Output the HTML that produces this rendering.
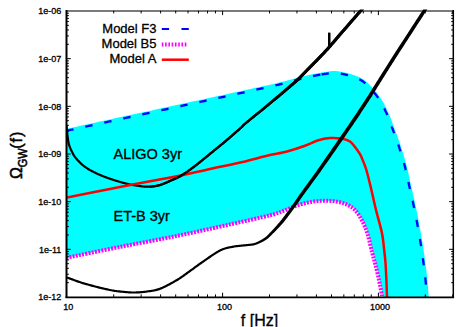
<!DOCTYPE html>
<html><head><meta charset="utf-8">
<style>
html,body{margin:0;padding:0;background:#fff;}
body{width:467px;height:327px;overflow:hidden;position:relative;font-family:"Liberation Sans",sans-serif;}
svg{position:absolute;left:0;top:0;}
text{font-family:"Liberation Sans",sans-serif;fill:#000;stroke:#000;stroke-width:0.3px;}
.tl{font-size:9px;}
</style></head><body>
<svg width="467" height="327" viewBox="0 0 467 327">
<defs><clipPath id="cp2"><rect x="150" y="11" width="310" height="286"/></clipPath><clipPath id="cp"><rect x="67" y="9.6" width="386.5" height="287.4"/></clipPath></defs>
<rect width="467" height="327" fill="#fff"/>
<rect x="66" y="10" width="388" height="2" fill="#7a7a7a"/>
<g clip-path="url(#cp)">
  <path d="M60.00 132.20 L60.19 132.16 L60.23 132.15 L60.18 132.16 L60.11 132.18 L60.09 132.19 L60.19 132.17 L60.47 132.11 L61.00 132.00 L61.85 131.81 L63.09 131.55 L64.78 131.18 L67.00 130.70 L69.79 130.09 L73.13 129.37 L76.92 128.55 L81.11 127.64 L85.62 126.66 L90.38 125.62 L95.30 124.55 L100.33 123.46 L105.39 122.37 L110.40 121.28 L115.30 120.22 L120.00 119.20 L124.62 118.20 L129.31 117.19 L134.06 116.16 L138.85 115.13 L143.67 114.09 L148.50 113.05 L153.33 112.01 L158.15 110.97 L162.94 109.94 L167.69 108.91 L172.38 107.90 L177.00 106.90 L181.57 105.91 L186.12 104.93 L190.65 103.95 L195.15 102.97 L199.62 102.01 L204.06 101.04 L208.47 100.09 L212.85 99.14 L217.20 98.19 L221.50 97.26 L225.77 96.32 L230.00 95.40 L234.27 94.47 L238.62 93.52 L243.02 92.56 L247.43 91.60 L251.80 90.64 L256.09 89.70 L260.27 88.78 L264.30 87.89 L268.12 87.04 L271.71 86.24 L275.01 85.49 L278.00 84.80 L280.65 84.17 L283.02 83.60 L285.11 83.07 L286.98 82.59 L288.65 82.14 L290.16 81.73 L291.53 81.35 L292.80 80.99 L294.00 80.65 L295.16 80.32 L296.32 80.01 L297.50 79.70 L298.64 79.41 L299.66 79.15 L300.58 78.92 L301.41 78.71 L302.17 78.53 L302.88 78.36 L303.56 78.20 L304.21 78.04 L304.87 77.89 L305.54 77.73 L306.24 77.57 L307.00 77.40 L307.79 77.22 L308.59 77.04 L309.39 76.86 L310.19 76.69 L310.99 76.52 L311.79 76.34 L312.58 76.18 L313.37 76.01 L314.14 75.85 L314.91 75.70 L315.66 75.54 L316.40 75.40 L317.11 75.26 L317.80 75.13 L318.47 75.00 L319.13 74.88 L319.78 74.76 L320.42 74.64 L321.06 74.53 L321.71 74.42 L322.38 74.31 L323.06 74.21 L323.77 74.10 L324.50 74.00 L325.26 73.89 L326.05 73.77 L326.86 73.65 L327.69 73.52 L328.53 73.40 L329.38 73.28 L330.23 73.17 L331.09 73.08 L331.93 73.00 L332.77 72.94 L333.59 72.91 L334.40 72.90 L335.19 72.92 L335.98 72.97 L336.77 73.03 L337.55 73.12 L338.32 73.22 L339.09 73.34 L339.86 73.47 L340.62 73.60 L341.37 73.75 L342.12 73.90 L342.86 74.05 L343.60 74.20 L344.32 74.35 L345.03 74.50 L345.72 74.66 L346.41 74.82 L347.09 74.99 L347.76 75.17 L348.44 75.36 L349.13 75.56 L349.82 75.77 L350.53 76.00 L351.25 76.24 L352.00 76.50 L352.78 76.78 L353.59 77.07 L354.42 77.38 L355.28 77.70 L356.14 78.03 L357.01 78.38 L357.87 78.74 L358.71 79.11 L359.54 79.49 L360.33 79.89 L361.09 80.29 L361.80 80.70 L362.47 81.12 L363.09 81.55 L363.68 81.99 L364.25 82.44 L364.79 82.90 L365.32 83.37 L365.84 83.85 L366.35 84.35 L366.87 84.86 L367.40 85.39 L367.94 85.94 L368.50 86.50 L369.08 87.09 L369.69 87.70 L370.30 88.35 L370.92 89.01 L371.54 89.68 L372.16 90.37 L372.78 91.06 L373.38 91.75 L373.97 92.43 L374.54 93.11 L375.08 93.76 L375.60 94.40 L376.09 95.02 L376.55 95.61 L376.99 96.20 L377.41 96.77 L377.82 97.34 L378.21 97.91 L378.60 98.48 L378.98 99.06 L379.35 99.65 L379.73 100.24 L380.11 100.86 L380.50 101.50 L380.89 102.16 L381.28 102.83 L381.66 103.51 L382.05 104.21 L382.43 104.92 L382.81 105.63 L383.18 106.35 L383.55 107.08 L383.92 107.81 L384.28 108.54 L384.64 109.27 L385.00 110.00 L385.35 110.73 L385.70 111.46 L386.05 112.20 L386.39 112.94 L386.73 113.68 L387.06 114.42 L387.39 115.17 L387.72 115.93 L388.05 116.69 L388.37 117.45 L388.69 118.22 L389.00 119.00 L389.31 119.79 L389.61 120.59 L389.91 121.40 L390.20 122.21 L390.49 123.03 L390.78 123.86 L391.07 124.68 L391.35 125.51 L391.64 126.33 L391.92 127.15 L392.21 127.95 L392.50 128.75 L392.79 129.54 L393.09 130.34 L393.39 131.13 L393.69 131.92 L394.00 132.70 L394.30 133.48 L394.59 134.26 L394.89 135.03 L395.18 135.79 L395.46 136.54 L395.73 137.27 L396.00 138.00 L396.25 138.68 L396.47 139.28 L396.67 139.83 L396.86 140.35 L397.05 140.86 L397.23 141.39 L397.43 141.95 L397.64 142.56 L397.87 143.26 L398.13 144.04 L398.42 144.95 L398.75 146.00 L399.13 147.20 L399.55 148.53 L400.01 149.98 L400.50 151.53 L401.01 153.15 L401.53 154.83 L402.06 156.54 L402.58 158.28 L403.10 160.01 L403.59 161.72 L404.06 163.39 L404.50 165.00 L404.91 166.57 L405.29 168.13 L405.66 169.68 L406.02 171.22 L406.36 172.77 L406.70 174.31 L407.04 175.86 L407.37 177.42 L407.71 178.98 L408.04 180.56 L408.39 182.14 L408.75 183.75 L409.12 185.38 L409.49 187.03 L409.88 188.69 L410.26 190.37 L410.65 192.06 L411.03 193.75 L411.42 195.44 L411.80 197.13 L412.17 198.81 L412.54 200.47 L412.90 202.12 L413.25 203.75 L413.59 205.35 L413.92 206.93 L414.25 208.50 L414.56 210.05 L414.88 211.59 L415.19 213.12 L415.49 214.66 L415.80 216.20 L416.10 217.75 L416.40 219.32 L416.70 220.90 L417.00 222.50 L417.30 224.13 L417.61 225.78 L417.91 227.44 L418.21 229.12 L418.51 230.81 L418.81 232.50 L419.11 234.19 L419.40 235.88 L419.68 237.56 L419.96 239.22 L420.24 240.87 L420.50 242.50 L420.76 244.11 L421.01 245.70 L421.25 247.28 L421.49 248.84 L421.72 250.40 L421.95 251.95 L422.18 253.50 L422.40 255.05 L422.62 256.59 L422.83 258.14 L423.04 259.69 L423.25 261.25 L423.46 262.82 L423.66 264.40 L423.87 265.98 L424.07 267.56 L424.27 269.15 L424.47 270.73 L424.66 272.31 L424.84 273.88 L425.02 275.44 L425.19 276.98 L425.35 278.50 L425.50 280.00 L425.64 281.51 L425.78 283.06 L425.91 284.63 L426.04 286.20 L426.15 287.76 L426.27 289.30 L426.37 290.79 L426.47 292.21 L426.56 293.56 L426.65 294.82 L426.73 295.97 L426.80 297.00 L426.87 297.90 L426.92 298.71 L426.97 299.41 L427.01 300.04 L427.05 300.58 L427.08 301.06 L427.11 301.48 L427.13 301.85 L427.15 302.18 L427.17 302.47 L427.18 302.75 L427.20 303.00 L383.39 302.93 L383.37 302.64 L383.34 302.27 L383.31 301.83 L383.27 301.34 L383.23 300.81 L383.19 300.24 L383.14 299.66 L383.09 299.07 L383.04 298.49 L382.99 297.93 L382.94 297.40 L382.89 296.91 L382.84 296.48 L382.80 296.10 L382.76 295.75 L382.73 295.42 L382.69 295.09 L382.65 294.76 L382.60 294.40 L382.54 294.01 L382.47 293.58 L382.38 293.08 L382.29 292.51 L382.17 291.85 L382.04 291.10 L381.89 290.28 L381.73 289.41 L381.56 288.47 L381.38 287.49 L381.19 286.46 L380.99 285.40 L380.78 284.31 L380.56 283.20 L380.33 282.08 L380.10 280.95 L379.86 279.82 L379.60 278.66 L379.34 277.46 L379.06 276.22 L378.77 274.95 L378.48 273.67 L378.17 272.36 L377.87 271.06 L377.56 269.76 L377.25 268.48 L376.94 267.21 L376.64 265.98 L376.34 264.79 L376.05 263.64 L375.76 262.54 L375.47 261.48 L375.19 260.44 L374.91 259.41 L374.62 258.39 L374.34 257.37 L374.05 256.33 L373.76 255.26 L373.46 254.15 L373.15 253.00 L372.84 251.79 L372.52 250.51 L372.20 249.16 L371.87 247.75 L371.54 246.31 L371.21 244.83 L370.86 243.33 L370.51 241.84 L370.15 240.35 L369.78 238.88 L369.40 237.45 L369.01 236.07 L368.61 234.75 L368.21 233.49 L367.81 232.26 L367.40 231.06 L366.98 229.89 L366.56 228.74 L366.13 227.61 L365.68 226.50 L365.22 225.40 L364.74 224.33 L364.25 223.26 L363.73 222.20 L363.20 221.15 L362.65 220.10 L362.08 219.04 L361.51 217.99 L360.91 216.95 L360.30 215.92 L359.66 214.91 L359.01 213.92 L358.34 212.97 L357.64 212.05 L356.92 211.18 L356.18 210.35 L355.42 209.59 L354.64 208.88 L353.84 208.22 L353.03 207.61 L352.20 207.04 L351.36 206.51 L350.50 206.01 L349.63 205.55 L348.75 205.11 L347.85 204.69 L346.94 204.30 L346.02 203.92 L345.07 203.56 L344.10 203.23 L343.10 202.93 L342.08 202.66 L341.04 202.41 L339.98 202.18 L338.91 201.97 L337.84 201.78 L336.76 201.61 L335.68 201.45 L334.61 201.31 L333.54 201.19 L332.49 201.08 L331.45 200.99 L330.41 200.93 L329.37 200.89 L328.33 200.87 L327.29 200.86 L326.25 200.87 L325.21 200.86 L324.17 200.87 L323.13 200.89 L322.09 200.93 L321.05 200.97 L320.01 201.03 L318.97 201.09 L317.93 201.16 L316.88 201.25 L315.84 201.34 L314.80 201.45 L313.76 201.57 L312.71 201.70 L311.67 201.85 L310.63 202.01 L309.58 202.19 L308.54 202.37 L307.49 202.57 L306.45 202.79 L305.40 203.02 L304.36 203.26 L303.31 203.52 L302.27 203.80 L301.22 204.09 L300.17 204.39 L299.13 204.70 L298.08 205.03 L297.04 205.36 L295.99 205.70 L294.95 206.05 L293.90 206.40 L292.85 206.78 L291.80 207.18 L290.75 207.59 L289.70 208.02 L288.66 208.46 L287.62 208.90 L286.58 209.34 L285.54 209.78 L284.51 210.21 L283.47 210.63 L282.43 211.03 L281.48 211.38 L280.66 211.68 L279.94 211.97 L279.27 212.25 L278.61 212.53 L277.91 212.82 L277.11 213.14 L276.16 213.47 L275.03 213.84 L273.65 214.25 L271.98 214.71 L269.98 215.23 L267.66 215.82 L265.06 216.45 L262.23 217.12 L259.17 217.83 L255.93 218.57 L252.52 219.35 L248.97 220.15 L245.31 220.97 L241.55 221.80 L237.73 222.65 L233.87 223.50 L229.99 224.36 L226.04 225.24 L221.96 226.15 L217.75 227.08 L213.44 228.04 L209.03 229.01 L204.55 230.00 L200.02 230.99 L195.44 231.98 L190.83 232.97 L186.21 233.96 L181.59 234.93 L177.00 235.88 L172.37 236.82 L167.68 237.75 L162.94 238.68 L158.15 239.61 L153.33 240.53 L148.50 241.44 L143.67 242.36 L138.85 243.27 L134.06 244.17 L129.31 245.08 L124.62 245.98 L120.00 246.89 L115.29 247.82 L110.40 248.80 L105.39 249.81 L100.33 250.83 L95.30 251.85 L90.37 252.85 L85.62 253.82 L81.11 254.74 L76.92 255.60 L73.12 256.38 L69.79 257.06 L67.00 257.63 L64.78 258.08 L63.09 258.43 L61.85 258.68 L61.00 258.85 L60.46 258.96 L60.18 259.01 L60.06 258.97 L60.10 259.02 L60.18 259.03 L60.23 259.04 L60.18 259.03 L59.99 259.07 Z" fill="#00ffff"/>
  <path d="M60.00 132.20 L60.19 132.16 L60.23 132.15 L60.18 132.16 L60.11 132.18 L60.09 132.19 L60.19 132.17 L60.47 132.11 L61.00 132.00 L61.85 131.81 L63.09 131.55 L64.78 131.18 L67.00 130.70 L69.79 130.09 L73.13 129.37 L76.92 128.55 L81.11 127.64 L85.62 126.66 L90.38 125.62 L95.30 124.55 L100.33 123.46 L105.39 122.37 L110.40 121.28 L115.30 120.22 L120.00 119.20 L124.62 118.20 L129.31 117.19 L134.06 116.16 L138.85 115.13 L143.67 114.09 L148.50 113.05 L153.33 112.01 L158.15 110.97 L162.94 109.94 L167.69 108.91 L172.38 107.90 L177.00 106.90 L181.57 105.91 L186.12 104.93 L190.65 103.95 L195.15 102.97 L199.62 102.01 L204.06 101.04 L208.47 100.09 L212.85 99.14 L217.20 98.19 L221.50 97.26 L225.77 96.32 L230.00 95.40 L234.27 94.47 L238.62 93.52 L243.02 92.56 L247.43 91.60 L251.80 90.64 L256.09 89.70 L260.27 88.78 L264.30 87.89 L268.12 87.04 L271.71 86.24 L275.01 85.49 L278.00 84.80 L280.65 84.17 L283.02 83.60 L285.11 83.07 L286.98 82.59 L288.65 82.14 L290.16 81.73 L291.53 81.35 L292.80 80.99 L294.00 80.65 L295.16 80.32 L296.32 80.01 L297.50 79.70 L298.64 79.41 L299.66 79.15 L300.58 78.92 L301.41 78.71 L302.17 78.53 L302.88 78.36 L303.56 78.20 L304.21 78.04 L304.87 77.89 L305.54 77.73 L306.24 77.57 L307.00 77.40 L307.79 77.22 L308.59 77.04 L309.39 76.86 L310.19 76.69 L310.99 76.52 L311.79 76.34 L312.58 76.18 L313.37 76.01 L314.14 75.85 L314.91 75.70 L315.66 75.54 L316.40 75.40 L317.11 75.26 L317.80 75.13 L318.47 75.00 L319.13 74.88 L319.78 74.76 L320.42 74.64 L321.06 74.53 L321.71 74.42 L322.38 74.31 L323.06 74.21 L323.77 74.10 L324.50 74.00 L325.26 73.89 L326.05 73.77 L326.86 73.65 L327.69 73.52 L328.53 73.40 L329.38 73.28 L330.23 73.17 L331.09 73.08 L331.93 73.00 L332.77 72.94 L333.59 72.91 L334.40 72.90 L335.19 72.92 L335.98 72.97 L336.77 73.03 L337.55 73.12 L338.32 73.22 L339.09 73.34 L339.86 73.47 L340.62 73.60 L341.37 73.75 L342.12 73.90 L342.86 74.05 L343.60 74.20 L344.32 74.35 L345.03 74.50 L345.72 74.66 L346.41 74.82 L347.09 74.99 L347.76 75.17 L348.44 75.36 L349.13 75.56 L349.82 75.77 L350.53 76.00 L351.25 76.24 L352.00 76.50 L352.78 76.78 L353.59 77.07 L354.42 77.38 L355.28 77.70 L356.14 78.03 L357.01 78.38 L357.87 78.74 L358.71 79.11 L359.54 79.49 L360.33 79.89 L361.09 80.29 L361.80 80.70 L362.47 81.12 L363.09 81.55 L363.68 81.99 L364.25 82.44 L364.79 82.90 L365.32 83.37 L365.84 83.85 L366.35 84.35 L366.87 84.86 L367.40 85.39 L367.94 85.94 L368.50 86.50 L369.08 87.09 L369.69 87.70 L370.30 88.35 L370.92 89.01 L371.54 89.68 L372.16 90.37 L372.78 91.06 L373.38 91.75 L373.97 92.43 L374.54 93.11 L375.08 93.76 L375.60 94.40 L376.09 95.02 L376.55 95.61 L376.99 96.20 L377.41 96.77 L377.82 97.34 L378.21 97.91 L378.60 98.48 L378.98 99.06 L379.35 99.65 L379.73 100.24 L380.11 100.86 L380.50 101.50 L380.89 102.16 L381.28 102.83 L381.66 103.51 L382.05 104.21 L382.43 104.92 L382.81 105.63 L383.18 106.35 L383.55 107.08 L383.92 107.81 L384.28 108.54 L384.64 109.27 L385.00 110.00 L385.35 110.73 L385.70 111.46 L386.05 112.20 L386.39 112.94 L386.73 113.68 L387.06 114.42 L387.39 115.17 L387.72 115.93 L388.05 116.69 L388.37 117.45 L388.69 118.22 L389.00 119.00 L389.31 119.79 L389.61 120.59 L389.91 121.40 L390.20 122.21 L390.49 123.03 L390.78 123.86 L391.07 124.68 L391.35 125.51 L391.64 126.33 L391.92 127.15 L392.21 127.95 L392.50 128.75 L392.79 129.54 L393.09 130.34 L393.39 131.13 L393.69 131.92 L394.00 132.70 L394.30 133.48 L394.59 134.26 L394.89 135.03 L395.18 135.79 L395.46 136.54 L395.73 137.27 L396.00 138.00 L396.25 138.68 L396.47 139.28 L396.67 139.83 L396.86 140.35 L397.05 140.86 L397.23 141.39 L397.43 141.95 L397.64 142.56 L397.87 143.26 L398.13 144.04 L398.42 144.95 L398.75 146.00 L399.13 147.20 L399.55 148.53 L400.01 149.98 L400.50 151.53 L401.01 153.15 L401.53 154.83 L402.06 156.54 L402.58 158.28 L403.10 160.01 L403.59 161.72 L404.06 163.39 L404.50 165.00 L404.91 166.57 L405.29 168.13 L405.66 169.68 L406.02 171.22 L406.36 172.77 L406.70 174.31 L407.04 175.86 L407.37 177.42 L407.71 178.98 L408.04 180.56 L408.39 182.14 L408.75 183.75 L409.12 185.38 L409.49 187.03 L409.88 188.69 L410.26 190.37 L410.65 192.06 L411.03 193.75 L411.42 195.44 L411.80 197.13 L412.17 198.81 L412.54 200.47 L412.90 202.12 L413.25 203.75 L413.59 205.35 L413.92 206.93 L414.25 208.50 L414.56 210.05 L414.88 211.59 L415.19 213.12 L415.49 214.66 L415.80 216.20 L416.10 217.75 L416.40 219.32 L416.70 220.90 L417.00 222.50 L417.30 224.13 L417.61 225.78 L417.91 227.44 L418.21 229.12 L418.51 230.81 L418.81 232.50 L419.11 234.19 L419.40 235.88 L419.68 237.56 L419.96 239.22 L420.24 240.87 L420.50 242.50 L420.76 244.11 L421.01 245.70 L421.25 247.28 L421.49 248.84 L421.72 250.40 L421.95 251.95 L422.18 253.50 L422.40 255.05 L422.62 256.59 L422.83 258.14 L423.04 259.69 L423.25 261.25 L423.46 262.82 L423.66 264.40 L423.87 265.98 L424.07 267.56 L424.27 269.15 L424.47 270.73 L424.66 272.31 L424.84 273.88 L425.02 275.44 L425.19 276.98 L425.35 278.50 L425.50 280.00 L425.64 281.51 L425.78 283.06 L425.91 284.63 L426.04 286.20 L426.15 287.76 L426.27 289.30 L426.37 290.79 L426.47 292.21 L426.56 293.56 L426.65 294.82 L426.73 295.97 L426.80 297.00 L426.87 297.90 L426.92 298.71 L426.97 299.41 L427.01 300.04 L427.05 300.58 L427.08 301.06 L427.11 301.48 L427.13 301.85 L427.15 302.18 L427.17 302.47 L427.18 302.75 L427.20 303.00" fill="none" stroke="#00ffff" stroke-width="3.8" stroke-linejoin="round"/>
  <path d="M66.28 130.86 L67.00 130.70 L67.78 130.53 L68.61 130.35 L69.49 130.16 L70.42 129.96 L71.40 129.75 L72.42 129.52 L73.48 129.29 L74.59 129.05 L75.74 128.80 L76.92 128.55 L78.14 128.28 L79.39 128.01 L80.68 127.73 L81.99 127.45 L83.33 127.16 L84.70 126.86 L86.09 126.56 L87.50 126.25 L88.93 125.94 L90.38 125.62 L91.84 125.31 L93.32 124.99 L94.81 124.66 L96.30 124.34 L97.81 124.01 L99.32 123.68 L100.84 123.35 L102.36 123.02 L103.87 122.69 L105.39 122.37 L106.90 122.04 L108.41 121.71 L109.91 121.39 L111.39 121.06 L112.87 120.74 L114.33 120.43 L115.78 120.11 L117.21 119.80 L118.61 119.50 L120.00 119.20 L121.38 118.90 L122.76 118.60 L124.16 118.30 L125.56 118.00 L126.96 117.70 L128.37 117.39 L129.79 117.09 L131.21 116.78 L132.63 116.47 L134.06 116.16 L135.50 115.85 L136.93 115.54 L138.37 115.23 L139.81 114.92 L141.26 114.61 L142.70 114.30 L144.15 113.99 L145.60 113.67 L147.05 113.36 L148.50 113.05 L149.95 112.74 L151.40 112.43 L152.85 112.11 L154.30 111.80 L155.74 111.49 L157.19 111.18 L158.63 110.87 L160.07 110.56 L161.50 110.25 L162.94 109.94 L164.37 109.63 L165.79 109.32 L167.21 109.01 L168.63 108.71 L170.04 108.40 L171.44 108.10 L172.84 107.80 L174.24 107.50 L175.62 107.20 L177.00 106.90 L178.37 106.60 L179.75 106.31 L181.12 106.01 L182.48 105.71 L183.85 105.42 L185.21 105.12 L186.58 104.83 L187.94 104.53 L189.29 104.24 L190.65 103.95 L192.00 103.66 L193.35 103.36 L194.70 103.07 L196.04 102.78 L197.39 102.49 L198.73 102.20 L200.07 101.91 L201.40 101.62 L202.73 101.33 L204.06 101.04 L205.39 100.76 L206.71 100.47 L208.03 100.18 L209.35 99.90 L210.67 99.61 L211.98 99.33 L213.29 99.04 L214.59 98.76 L215.90 98.48 L217.20 98.19 L218.49 97.91 L219.78 97.63 L221.07 97.35 L222.36 97.07 L223.64 96.79 L224.92 96.51 L226.20 96.23 L227.47 95.95 L228.74 95.68 L230.00 95.40 L231.27 95.12 L232.55 94.84 L233.83 94.56 L235.13 94.28 L236.43 93.99 L237.74 93.71 L239.06 93.42 L240.38 93.13 L241.70 92.85 L243.02 92.56 L244.34 92.27 L245.67 91.98 L246.99 91.69 L248.30 91.40 L249.62 91.12 L250.93 90.83 L252.23 90.55 L253.53 90.26 L254.82 89.98 L256.09 89.70 L257.36 89.42 L258.62 89.15 L259.86 88.87 L261.09 88.60 L262.31 88.33 L263.51 88.07 L264.69 87.81 L265.85 87.55 L267.00 87.29 L268.12 87.04 L269.22 86.80 L270.30 86.55 L271.36 86.32 L272.39 86.08 L273.40 85.86 L274.38 85.63 L275.33 85.42 L276.25 85.20 L277.14 85.00 L278.00 84.80 L278.83 84.61 L279.63 84.42 L280.40 84.23 L281.15 84.05 L281.87 83.88 L282.56 83.71 L283.24 83.54 L283.88 83.38 L284.51 83.23 L285.11 83.07 L285.70 82.92 L286.26 82.78 L286.80 82.64 L287.33 82.50 L287.84 82.36 L288.33 82.23 L288.81 82.10 L289.27 81.97 L289.72 81.85 L290.16 81.73 L290.58 81.61 L290.99 81.50 L291.40 81.39 L291.79 81.27 L292.17 81.17 L292.55 81.06 L292.92 80.95 L293.28 80.85 L293.64 80.75 L294.00 80.65 L294.35 80.55 L294.70 80.45 L295.04 80.36 L295.39 80.26 L295.74 80.17 L296.08 80.07 L296.43 79.98 L296.78 79.89 L297.14 79.79 L297.50 79.70 L297.86 79.61 L298.20 79.52 L298.53 79.44 L298.86 79.36 L299.17 79.28 L299.47 79.20 L299.76 79.13 L300.04 79.06 L300.32 78.99 L300.58 78.92 L300.84 78.86 L301.09 78.79 L301.33 78.73 L301.57 78.68 L301.80 78.62 L302.02 78.56 L302.25 78.51 L302.46 78.46 L302.67 78.41 L302.88 78.36 L303.09 78.31 L303.29 78.26 L303.49 78.21 L303.69 78.16 L303.88 78.12 L304.08 78.07 L304.28 78.03 L304.47 77.98 L304.67 77.93 L304.87 77.89 L305.07 77.84 L305.27 77.80 L305.47 77.75 L305.68 77.70 L305.89 77.65 L306.10 77.61 L306.32 77.56 L306.54 77.50 L306.77 77.45 L307.00 77.40 L307.24 77.35 L307.47 77.29 L307.71 77.24 L307.95 77.19 L308.19 77.13 L308.43 77.08 L308.67 77.02 L308.91 76.97 L309.15 76.92 L309.39 76.86 L309.63 76.81 L309.87 76.76 L310.11 76.71 L310.35 76.65 L310.59 76.60 L310.83 76.55 L311.07 76.50 L311.31 76.45 L311.55 76.39 L311.79 76.34 L312.03 76.29 L312.26 76.24 L312.50 76.19 L312.74 76.14 L312.97 76.09 L313.21 76.04 L313.44 75.99 L313.68 75.95 L313.91 75.90 L314.14 75.85 L314.37 75.80 L314.60 75.76 L314.83 75.71 L315.06 75.66 L315.29 75.62 L315.51 75.57 L315.74 75.53 L315.96 75.49 L316.18 75.44 L316.40 75.40 L316.62 75.36 L316.83 75.32 L317.04 75.27 L317.25 75.23 L317.46 75.19 L317.67 75.15 L317.87 75.12 L318.07 75.08 L318.28 75.04 L318.47 75.00 L318.67 74.96 L318.87 74.93 L319.06 74.89 L319.26 74.85 L319.45 74.82 L319.65 74.78 L319.84 74.75 L320.03 74.71 L320.23 74.68 L320.42 74.64" fill="none" stroke="#0000ff" stroke-width="2.3" stroke-dasharray="7.4 12.05"/>
  <path d="M321.58 74.44 L321.78 74.41 L321.98 74.38 L322.18 74.35 L322.38 74.31 L322.58 74.28 L322.79 74.25 L322.99 74.22 L323.20 74.19 L323.41 74.16 L323.62 74.13 L323.84 74.09 L324.06 74.06 L324.28 74.03 L324.50 74.00 L324.73 73.97 L324.96 73.94 L325.19 73.90 L325.42 73.87 L325.66 73.83 L325.89 73.80 L326.13 73.76 L326.38 73.72 L326.62 73.69 L326.86 73.65 L327.11 73.61 L327.36 73.57 L327.61 73.53 L327.86 73.50 L328.11 73.46 L328.36 73.42 L328.62 73.39 L328.87 73.35 L329.13 73.32 L329.38 73.28 L329.64 73.25 L329.89 73.21 L330.15 73.18 L330.40 73.15 L330.66 73.12 L330.92 73.10 L331.17 73.07 L331.42 73.04 L331.68 73.02 L331.93 73.00 L332.18 72.98 L332.44 72.96 L332.69 72.95 L332.94 72.93 L333.18 72.92 L333.43 72.91 L333.68 72.90 L333.92 72.90 L334.16 72.90 L334.40 72.90 L334.64 72.90 L334.88 72.91 L335.11 72.92 L335.35 72.93 L335.59 72.94 L335.83 72.96 L336.06 72.97 L336.30 72.99 L336.53 73.01 L336.77 73.03 L337.00 73.06 L337.24 73.08 L337.47 73.11 L337.70 73.14 L337.94 73.17 L338.17 73.20 L338.40 73.23 L338.63 73.27 L338.86 73.30 L339.09 73.34 L339.32 73.37 L339.55 73.41 L339.78 73.45 L340.01 73.49 L340.24 73.53 L340.47 73.58 L340.69 73.62 L340.92 73.66 L341.15 73.70 L341.37 73.75 L341.60 73.79 L341.82 73.84 L342.05 73.88 L342.27 73.93 L342.49 73.97 L342.72 74.02 L342.94 74.06 L343.16 74.11 L343.38 74.15 L343.60 74.20 L343.82 74.25 L344.04 74.29 L344.25 74.34 L344.47 74.38 L344.68 74.43 L344.89 74.47 L345.10 74.52 L345.31 74.57 L345.52 74.61 L345.72 74.66 L345.93 74.71 L346.13 74.76 L346.34 74.81 L346.54 74.86 L346.75 74.91 L346.95 74.96 L347.15 75.01 L347.36 75.06 L347.56 75.11 L347.76 75.17 L347.97 75.22 L348.17 75.28 L348.37 75.34 L348.58 75.40 L348.78 75.45 L348.99 75.51 L349.19 75.58 L349.40 75.64 L349.61 75.70 L349.82 75.77 L350.03 75.83 L350.24 75.90 L350.46 75.97 L350.67 76.04 L350.89 76.11 L351.11 76.19 L351.33 76.26 L351.55 76.34 L351.77 76.42 L352.00 76.50 L352.23 76.58 L352.46 76.67 L352.70 76.75 L352.94 76.84 L353.18 76.92 L353.42 77.01 L353.67 77.10 L353.92 77.19 L354.17 77.29 L354.42 77.38 L354.68 77.47 L354.93 77.57 L355.19 77.67 L355.45 77.77 L355.71 77.87 L355.97 77.97 L356.23 78.07 L356.49 78.17 L356.75 78.28 L357.01 78.38 L357.27 78.49 L357.52 78.60 L357.78 78.70 L358.04 78.81 L358.29 78.92 L358.54 79.04 L358.79 79.15 L359.04 79.26 L359.29 79.38 L359.54 79.49 L359.78 79.61 L360.02 79.73 L360.25 79.85 L360.48 79.97 L360.71 80.09 L360.94 80.21 L361.16 80.33 L361.38 80.45 L361.59 80.58 L361.80 80.70 L362.00 80.83 L362.20 80.95 L362.40 81.08 L362.59 81.21 L362.78 81.33 L362.97 81.46 L363.15 81.59 L363.33 81.72 L363.51 81.86 L363.68 81.99 L363.86 82.12 L364.03 82.26 L364.19 82.39 L364.36 82.53 L364.52 82.67 L364.68 82.80 L364.84 82.94 L365.00 83.08 L365.16 83.23 L365.32 83.37 L365.47 83.51 L365.63 83.66 L365.79 83.80 L365.94 83.95 L366.09 84.10 L366.25 84.25 L366.40 84.40 L366.56 84.56 L366.71 84.71 L366.87 84.86 L367.03 85.02 L367.18 85.18 L367.34 85.34 L367.50 85.50 L367.66 85.66 L367.83 85.83 L367.99 85.99 L368.16 86.16 L368.33 86.33 L368.50 86.50 L368.67 86.67 L368.85 86.85 L369.03 87.03 L369.20 87.21 L369.38 87.39 L369.56 87.58 L369.75 87.77 L369.93 87.96 L370.11 88.15 L370.30 88.35 L370.48 88.54 L370.67 88.74 L370.86 88.94 L371.04 89.14 L371.23 89.34 L371.42 89.55 L371.60 89.75 L371.79 89.96 L371.98 90.16 L372.16 90.37 L372.35 90.58 L372.53 90.78 L372.72 90.99 L372.90 91.20 L373.08 91.40 L373.26 91.61 L373.44 91.82 L373.62 92.02 L373.80 92.23 L373.97 92.43 L374.14 92.64 L374.31 92.84 L374.48 93.04 L374.65 93.24 L374.82 93.44 L374.98 93.63 L375.14 93.83 L375.29 94.02 L375.45 94.21 L375.60 94.40 L375.75 94.59 L375.90 94.77 L376.04 94.95 L376.18 95.14 L376.32 95.32 L376.46 95.49 L376.59 95.67 L376.73 95.85 L376.86 96.02 L376.99 96.20 L377.12 96.37 L377.24 96.54 L377.37 96.72 L377.49 96.89 L377.62 97.06 L377.74 97.23 L377.86 97.40 L377.98 97.57 L378.10 97.74 L378.21 97.91 L378.33 98.08 L378.44 98.25 L378.56 98.43 L378.67 98.60 L378.79 98.77 L378.90 98.94 L379.02 99.12 L379.13 99.29 L379.24 99.47 L379.35 99.65 L379.47 99.82 L379.58 100.00 L379.69 100.18 L379.81 100.37 L379.92 100.55 L380.04 100.74 L380.15 100.92 L380.27 101.11 L380.38 101.31 L380.50 101.50 L380.62 101.70 L380.73 101.89 L380.85 102.09 L380.97 102.29 L381.09 102.49 L381.20 102.69 L381.32 102.90 L381.43 103.10 L381.55 103.31 L381.66 103.51 L381.78 103.72 L381.90 103.93 L382.01 104.14 L382.12 104.35 L382.24 104.56 L382.35 104.78 L382.47 104.99 L382.58 105.20 L382.69 105.42 L382.81 105.63 L382.92 105.85 L383.03 106.06 L383.14 106.28 L383.26 106.50 L383.37 106.71 L383.48 106.93 L383.59 107.15 L383.70 107.37 L383.81 107.59 L383.92 107.81 L384.03 108.03 L384.14 108.25 L384.25 108.47 L384.36 108.68 L384.46 108.90 L384.57 109.12 L384.68 109.34 L384.79 109.56 L384.89 109.78 L385.00 110.00 L385.11 110.22 L385.21 110.44 L385.32 110.66 L385.42 110.88 L385.53 111.10 L385.63 111.32 L385.74 111.54 L385.84 111.76 L385.94 111.98 L386.05 112.20 L386.15 112.42 L386.25 112.64 L386.35 112.86 L386.46 113.08 L386.56 113.31 L386.66 113.53 L386.76 113.75 L386.86 113.97 L386.96 114.20 L387.06 114.42 L387.16 114.65 L387.26 114.87 L387.36 115.10 L387.46 115.32 L387.56 115.55 L387.66 115.77 L387.75 116.00 L387.85 116.23 L387.95 116.46 L388.05 116.69 L388.14 116.91 L388.24 117.14 L388.34 117.37 L388.43 117.60 L388.53 117.84 L388.62 118.07 L388.72 118.30 L388.81 118.53 L388.91 118.77 L389.00 119.00 L389.09 119.23 L389.19 119.47 L389.28 119.71 L389.37 119.95 L389.46 120.19 L389.55 120.43 L389.64 120.67 L389.73 120.91 L389.82 121.15 L389.91 121.40 L390.00 121.64 L390.09 121.89 L390.17 122.13 L390.26 122.38 L390.35 122.62 L390.44 122.87 L390.52 123.12 L390.61 123.36 L390.70 123.61 L390.78 123.86 L390.87 124.11 L390.95 124.35 L391.04 124.60 L391.12 124.85 L391.21 125.10 L391.29 125.34 L391.38 125.59 L391.47 125.84 L391.55 126.08 L391.64 126.33 L391.72 126.58 L391.81 126.82 L391.89 127.06 L391.98 127.31 L392.07 127.55 L392.15 127.79 L392.24 128.03 L392.33 128.27 L392.41 128.51 L392.50 128.75 L392.59 128.99 L392.68 129.23 L392.76 129.46 L392.85 129.70 L392.94 129.94 L393.03 130.18 L393.12 130.41 L393.21 130.65 L393.30 130.89 L393.39 131.13 L393.48 131.36 L393.57 131.60 L393.66 131.84 L393.75 132.07 L393.85 132.31 L393.94 132.55 L394.03 132.78 L394.12 133.02 L394.21 133.25 L394.30 133.48 L394.39 133.72 L394.48 133.95 L394.57 134.18 L394.65 134.41 L394.74 134.64 L394.83 134.87 L394.92 135.10 L395.01 135.33 L395.09 135.56 L395.18 135.79 L395.26 136.01 L395.35 136.24 L395.43 136.46 L395.52 136.69 L395.60 136.91 L395.68 137.13 L395.76 137.35 L395.84 137.57 L395.92 137.78 L396.00 138.00 L396.08 138.21 L396.15 138.42 L396.22 138.61 L396.29 138.80 L396.36 138.98 L396.42 139.16 L396.49 139.34 L396.55 139.50 L396.61 139.67 L396.67 139.83 L396.73 139.99 L396.79 140.15 L396.84 140.30 L396.90 140.45 L396.95 140.61 L397.01 140.76 L397.07 140.92 L397.12 141.07 L397.18 141.23 L397.23 141.39 L397.29 141.55 L397.35 141.72 L397.41 141.89 L397.47 142.07 L397.53 142.25 L397.60 142.44 L397.66 142.63 L397.73 142.83 L397.80 143.04 L397.87 143.26 L397.94 143.48 L398.02 143.72 L398.10 143.96 L398.18 144.22 L398.27 144.48 L398.36 144.76 L398.45 145.05 L398.55 145.35 L398.65 145.67 L398.75 146.00 L398.86 146.34 L398.97 146.70 L399.09 147.07 L399.21 147.46 L399.34 147.85 L399.46 148.26 L399.60 148.67 L399.73 149.10 L399.87 149.54 L400.01 149.98 L400.16 150.44 L400.30 150.90 L400.45 151.37 L400.60 151.85 L400.75 152.33 L400.91 152.82 L401.06 153.32 L401.22 153.82 L401.37 154.32 L401.53 154.83 L401.69 155.34 L401.85 155.85 L402.01 156.37 L402.16 156.89 L402.32 157.41 L402.48 157.93 L402.64 158.45 L402.79 158.97 L402.94 159.49 L403.10 160.01 L403.25 160.53 L403.40 161.04 L403.55 161.55 L403.69 162.06 L403.83 162.56 L403.97 163.06 L404.11 163.55 L404.24 164.04 L404.37 164.52 L404.50 165.00 L404.62 165.47 L404.75 165.94 L404.87 166.41 L404.98 166.88 L405.10 167.35 L405.22 167.81 L405.33 168.28 L405.44 168.75 L405.55 169.21 L405.66 169.68 L405.77 170.14 L405.88 170.60 L405.98 171.07 L406.09 171.53 L406.19 171.99 L406.30 172.46 L406.40 172.92 L406.50 173.38 L406.60 173.85 L406.70 174.31 L406.80 174.78 L406.90 175.24 L407.00 175.71 L407.10 176.17 L407.20 176.64 L407.30 177.11 L407.40 177.57 L407.50 178.04 L407.60 178.51 L407.71 178.98 L407.81 179.45 L407.91 179.92 L408.01 180.40 L408.11 180.87 L408.22 181.35 L408.32 181.83 L408.43 182.30 L408.53 182.78 L408.64 183.27 L408.75 183.75 L408.86 184.24 L408.97 184.72 L409.08 185.21 L409.19 185.71 L409.31 186.20 L409.42 186.69 L409.53 187.19 L409.65 187.69 L409.76 188.19 L409.88 188.69 L409.99 189.19 L410.11 189.70 L410.22 190.20 L410.34 190.71 L410.45 191.21 L410.57 191.72 L410.68 192.23 L410.80 192.73 L410.92 193.24 L411.03 193.75 L411.15 194.26 L411.26 194.77 L411.38 195.27 L411.49 195.78 L411.61 196.29 L411.72 196.79 L411.83 197.30 L411.95 197.80 L412.06 198.31 L412.17 198.81 L412.28 199.31 L412.39 199.81 L412.50 200.31 L412.61 200.81 L412.72 201.30 L412.83 201.80 L412.94 202.29 L413.04 202.78 L413.15 203.26 L413.25 203.75 L413.35 204.23 L413.45 204.71 L413.56 205.19 L413.66 205.67 L413.76 206.15 L413.86 206.62 L413.95 207.09 L414.05 207.56 L414.15 208.03 L414.25 208.50 L414.34 208.96 L414.44 209.43 L414.53 209.89 L414.63 210.36 L414.72 210.82 L414.82 211.28 L414.91 211.74 L415.00 212.20 L415.10 212.66 L415.19 213.12 L415.28 213.59 L415.37 214.05 L415.46 214.51 L415.55 214.97 L415.65 215.43 L415.74 215.89 L415.83 216.36 L415.92 216.82 L416.01 217.29 L416.10 217.75 L416.19 218.22 L416.28 218.69 L416.37 219.16 L416.46 219.63 L416.55 220.10 L416.64 220.58 L416.73 221.06 L416.82 221.54 L416.91 222.02 L417.00 222.50 L417.09 222.99 L417.18 223.47 L417.27 223.96 L417.36 224.46 L417.45 224.95 L417.55 225.44 L417.64 225.94 L417.73 226.44 L417.82 226.94 L417.91 227.44 L418.00 227.94 L418.09 228.45 L418.18 228.95 L418.27 229.46 L418.36 229.96 L418.45 230.47 L418.54 230.98 L418.63 231.48 L418.72 231.99 L418.81 232.50 L418.90 233.01 L418.99 233.52 L419.08 234.02 L419.17 234.53 L419.25 235.04 L419.34 235.54 L419.43 236.05 L419.51 236.55 L419.60 237.06 L419.68 237.56 L419.77 238.06 L419.85 238.56 L419.94 239.06 L420.02 239.56 L420.10 240.05 L420.18 240.55 L420.26 241.04 L420.34 241.53 L420.42 242.01 L420.50 242.50 L420.58 242.98 L420.66 243.47 L420.73 243.95 L420.81 244.43 L420.88 244.90 L420.96 245.38 L421.03 245.86 L421.11 246.33 L421.18 246.80 L421.25 247.28 L421.32 247.75 L421.40 248.22 L421.47 248.69 L421.54 249.15 L421.61 249.62 L421.68 250.09 L421.75 250.56 L421.82 251.02 L421.88 251.49 L421.95 251.95 L422.02 252.42 L422.09 252.88 L422.16 253.35 L422.22 253.81 L422.29 254.27 L422.35 254.74 L422.42 255.20 L422.49 255.66 L422.55 256.13 L422.62 256.59 L422.68 257.06 L422.74 257.52 L422.81 257.98 L422.87 258.45 L422.94 258.91 L423.00 259.38 L423.06 259.85 L423.12 260.31 L423.19 260.78 L423.25 261.25 L423.31 261.72 L423.37 262.19 L423.44 262.66 L423.50 263.13 L423.56 263.61 L423.62 264.08 L423.69 264.55 L423.75 265.03 L423.81 265.50 L423.87 265.98 L423.93 266.45 L423.99 266.93 L424.05 267.41 L424.11 267.88 L424.17 268.36 L424.23 268.83 L424.29 269.31 L424.35 269.78 L424.41 270.26 L424.47 270.73 L424.52 271.21 L424.58 271.68 L424.64 272.15 L424.69 272.63 L424.75 273.10 L424.80 273.57 L424.86 274.04 L424.91 274.50 L424.96 274.97 L425.02 275.44 L425.07 275.90 L425.12 276.36 L425.17 276.82 L425.22 277.28 L425.27 277.74 L425.32 278.20 L425.36 278.65 L425.41 279.10 L425.46 279.55 L425.50 280.00 L425.54 280.45 L425.59 280.90 L425.63 281.36 L425.67 281.82 L425.71 282.28 L425.76 282.75 L425.80 283.22 L425.84 283.69 L425.87 284.16 L425.91 284.63 L425.95 285.10 L425.99 285.58 L426.02 286.05 L426.06 286.52 L426.10 286.99 L426.13 287.45 L426.17 287.92 L426.20 288.38 L426.23 288.84 L426.27 289.30 L426.30 289.75 L426.33 290.20 L426.36 290.64 L426.39 291.08 L426.42 291.51 L426.45 291.93 L426.48 292.35 L426.51 292.76 L426.53 293.17 L426.56 293.56 L426.59 293.95 L426.61 294.33 L426.64 294.70 L426.66 295.06 L426.69 295.41 L426.71 295.75 L426.73 296.08 L426.76 296.40 L426.78 296.71 L426.80 297.00 L426.82 297.28 L426.84 297.56 L426.86 297.82 L426.88 298.07 L426.90 298.32 L426.91 298.55 L426.93 298.78 L426.94 299.00 L426.96 299.21 L426.97 299.41 L426.99 299.61 L427.00 299.80 L427.01 299.98 L427.02 300.15 L427.03 300.32 L427.04 300.48 L427.05 300.63 L427.06 300.78 L427.07 300.93 L427.08 301.06 L427.09 301.19 L427.10 301.32 L427.10 301.44 L427.11 301.56 L427.12 301.67 L427.13 301.78 L427.13 301.89 L427.14 301.99 L427.14 302.09 L427.15 302.18 L427.15 302.27 L427.16 302.36 L427.17 302.45 L427.17 302.53 L427.18 302.61 L427.18 302.69 L427.19 302.77 L427.19 302.85 L427.20 302.92 L427.20 303.00" fill="none" stroke="#0000ff" stroke-width="2.3" stroke-dasharray="7.3 12.1"/>
  <path d="M60.00 259.10 C61.17 258.86 57.00 259.68 67.00 257.65 C77.00 255.62 101.67 250.53 120.00 246.90 C138.33 243.28 158.67 239.65 177.00 235.90 C195.33 232.15 214.50 227.83 230.00 224.40 C245.50 220.97 261.25 217.50 270.00 215.30 C278.75 213.10 278.33 212.72 282.50 211.20 C286.67 209.68 290.83 207.63 295.00 206.20 C299.17 204.77 303.33 203.48 307.50 202.60 C311.67 201.72 315.83 201.17 320.00 200.90 C324.17 200.63 328.33 200.53 332.50 201.00 C336.67 201.47 341.25 202.25 345.00 203.75 C348.75 205.25 352.08 207.04 355.00 210.00 C357.92 212.96 360.37 217.33 362.50 221.50 C364.63 225.67 366.22 229.92 367.80 235.00 C369.38 240.08 370.72 247.00 372.00 252.00 C373.28 257.00 374.33 260.33 375.50 265.00 C376.67 269.67 378.03 275.50 379.00 280.00 C379.97 284.50 380.80 289.17 381.30 292.00 C381.80 294.83 381.80 295.17 382.00 297.00 C382.20 298.83 382.42 302.00 382.50 303.00" fill="none" stroke="#ff00ff" stroke-width="4" stroke-dasharray="1.95 1.3"/>
  <path d="M65.50 126.07 L65.51 126.25 L65.53 126.45 L65.54 126.68 L65.55 126.93 L65.56 127.20 L65.58 127.50 L65.60 127.82 L65.61 128.16 L65.64 128.52 L65.66 128.91 L65.69 129.31 L65.72 129.73 L65.76 130.18 L65.80 130.64 L65.85 131.12 L65.91 131.62 L65.97 132.15 L66.03 132.74 L66.11 133.37 L66.19 134.03 L66.27 134.73 L66.36 135.45 L66.45 136.18 L66.55 136.92 L66.64 137.66 L66.74 138.39 L66.84 139.11 L66.94 139.80 L67.04 140.46 L67.13 141.09 L67.23 141.67 L67.32 142.19 L67.41 142.67 L67.49 143.12 L67.58 143.53 L67.67 143.91 L67.76 144.27 L67.85 144.61 L67.93 144.93 L68.02 145.23 L68.11 145.51 L68.20 145.79 L68.29 146.06 L68.39 146.32 L68.48 146.58 L68.57 146.83 L68.67 147.10 L68.76 147.37 L68.87 147.65 L68.97 147.92 L69.07 148.19 L69.17 148.44 L69.27 148.69 L69.37 148.93 L69.48 149.17 L69.58 149.41 L69.69 149.65 L69.81 149.89 L69.93 150.13 L70.05 150.39 L70.18 150.65 L70.32 150.92 L70.47 151.20 L70.62 151.50 L70.77 151.80 L70.93 152.11 L71.08 152.44 L71.24 152.77 L71.41 153.12 L71.58 153.47 L71.77 153.84 L71.96 154.21 L72.16 154.60 L72.37 154.99 L72.60 155.39 L72.84 155.79 L73.10 156.20 L73.37 156.62 L73.66 157.04 L73.97 157.46 L74.30 157.89 L74.65 158.33 L75.01 158.78 L75.40 159.24 L75.80 159.70 L76.21 160.18 L76.64 160.65 L77.07 161.13 L77.51 161.60 L77.95 162.07 L78.39 162.53 L78.83 162.99 L79.27 163.43 L79.71 163.85 L80.13 164.26 L80.55 164.66 L80.97 165.03 L81.38 165.40 L81.79 165.75 L82.20 166.10 L82.62 166.43 L83.03 166.76 L83.44 167.07 L83.85 167.38 L84.26 167.68 L84.66 167.97 L85.07 168.26 L85.48 168.54 L85.89 168.82 L86.29 169.09 L86.70 169.36 L87.10 169.62 L87.51 169.89 L87.92 170.14 L88.34 170.39 L88.75 170.63 L89.15 170.87 L89.56 171.10 L89.97 171.32 L90.38 171.54 L90.78 171.75 L91.19 171.96 L91.59 172.17 L92.00 172.37 L92.40 172.58 L92.80 172.78 L93.20 172.98 L93.61 173.18 L94.01 173.39 L94.42 173.59 L94.83 173.79 L95.24 173.99 L95.66 174.18 L96.07 174.38 L96.48 174.57 L96.89 174.76 L97.30 174.95 L97.71 175.14 L98.12 175.32 L98.54 175.50 L98.94 175.68 L99.35 175.86 L99.76 176.04 L100.17 176.21 L100.58 176.38 L100.98 176.55 L101.39 176.72 L101.79 176.89 L102.20 177.05 L102.60 177.21 L103.01 177.37 L103.41 177.53 L103.81 177.68 L104.21 177.83 L104.61 177.99 L105.02 178.14 L105.42 178.29 L105.82 178.44 L106.22 178.58 L106.62 178.73 L107.02 178.88 L107.41 179.02 L107.80 179.16 L108.18 179.30 L108.56 179.43 L108.94 179.57 L109.32 179.70 L109.70 179.83 L110.09 179.97 L110.49 180.10 L110.89 180.24 L111.30 180.37 L111.72 180.51 L112.15 180.65 L112.60 180.80 L113.06 180.95 L113.54 181.10 L114.04 181.26 L114.55 181.42 L115.08 181.59 L115.62 181.75 L116.17 181.92 L116.72 182.09 L117.28 182.26 L117.84 182.44 L118.41 182.61 L118.97 182.77 L119.53 182.94 L120.09 183.10 L120.64 183.26 L121.18 183.41 L121.70 183.56 L122.22 183.70 L122.72 183.84 L123.22 183.98 L123.71 184.11 L124.19 184.24 L124.67 184.37 L125.15 184.50 L125.64 184.63 L126.13 184.75 L126.62 184.87 L127.12 184.99 L127.63 185.11 L128.15 185.23 L128.68 185.35 L129.22 185.46 L129.78 185.58 L130.37 185.69 L130.98 185.81 L131.61 185.92 L132.26 186.04 L132.92 186.15 L133.58 186.26 L134.26 186.37 L134.93 186.47 L135.60 186.58 L136.26 186.68 L136.91 186.78 L137.55 186.87 L138.16 186.96 L138.76 187.04 L139.32 187.12 L139.85 187.19 L140.35 187.26 L140.83 187.32 L141.28 187.38 L141.72 187.43 L142.13 187.48 L142.54 187.53 L142.93 187.57 L143.31 187.61 L143.69 187.65 L144.07 187.68 L144.44 187.71 L144.81 187.73 L145.19 187.76 L145.58 187.77 L145.97 187.79 L146.37 187.80 L146.79 187.81 L147.20 187.81 L147.61 187.81 L148.02 187.81 L148.43 187.80 L148.85 187.79 L149.26 187.78 L149.67 187.76 L150.09 187.74 L150.50 187.72 L150.91 187.69 L151.33 187.66 L151.74 187.62 L152.15 187.58 L152.56 187.54 L152.98 187.49 L153.39 187.44 L153.80 187.39 L154.21 187.34 L154.62 187.28 L155.03 187.22 L155.45 187.15 L155.86 187.08 L156.27 187.01 L156.69 186.93 L157.10 186.85 L157.52 186.77 L157.93 186.68 L158.35 186.58 L158.76 186.48 L159.18 186.37 L159.59 186.26 L160.01 186.14 L160.43 186.02 L160.84 185.88 L161.26 185.75 L161.67 185.61 L162.08 185.46 L162.49 185.31 L162.89 185.16 L163.30 185.00 L163.71 184.84 L164.11 184.68 L164.51 184.52 L164.91 184.36 L165.31 184.19 L165.71 184.03 L166.12 183.87 L166.52 183.70 L166.93 183.53 L167.33 183.36 L167.74 183.18 L168.14 183.00 L168.55 182.82 L168.95 182.64 L169.35 182.46 L169.75 182.28 L170.15 182.09 L170.55 181.91 L170.95 181.73 L171.35 181.55 L171.75 181.36 L172.15 181.18 L172.55 181.01 L172.94 180.83 L173.34 180.66 L173.74 180.49 L174.15 180.32 L174.55 180.15 L174.96 179.97 L175.37 179.80 L175.78 179.63 L176.19 179.45 L176.61 179.27 L177.02 179.08 L177.44 178.90 L177.86 178.70 L178.28 178.50 L178.69 178.29 L179.11 178.07 L179.53 177.85 L179.94 177.63 L180.35 177.40 L180.76 177.16 L181.17 176.92 L181.57 176.68 L181.98 176.43 L182.38 176.19 L182.79 175.93 L183.19 175.68 L183.60 175.42 L184.00 175.17 L184.40 174.91 L184.80 174.64 L185.20 174.38 L185.60 174.12 L186.01 173.85 L186.41 173.58 L186.82 173.31 L187.22 173.03 L187.63 172.76 L188.03 172.48 L188.43 172.19 L188.84 171.91 L189.24 171.62 L189.64 171.34 L190.04 171.05 L190.44 170.76 L190.85 170.47 L191.25 170.17 L191.65 169.88 L192.05 169.59 L192.45 169.29 L192.85 169.00 L193.25 168.70 L193.64 168.40 L194.04 168.11 L194.43 167.81 L194.82 167.51 L195.22 167.20 L195.62 166.90 L196.01 166.59 L196.42 166.28 L196.82 165.97 L197.23 165.65 L197.64 165.32 L198.06 165.00 L198.48 164.66 L198.91 164.33 L199.34 163.98 L199.78 163.63 L200.22 163.28 L200.67 162.93 L201.12 162.57 L201.57 162.20 L202.02 161.84 L202.48 161.47 L202.94 161.10 L203.39 160.73 L203.85 160.35 L204.31 159.98 L204.78 159.60 L205.24 159.23 L205.70 158.85 L206.15 158.48 L206.59 158.12 L207.02 157.77 L207.44 157.42 L207.86 157.07 L208.27 156.73 L208.69 156.38 L209.12 156.02 L209.56 155.66 L210.01 155.28 L210.48 154.89 L210.97 154.49 L211.48 154.06 L212.02 153.62 L212.59 153.15 L213.20 152.65 L213.83 152.13 L214.49 151.60 L215.17 151.05 L215.88 150.48 L216.60 149.90 L217.35 149.30 L218.11 148.68 L218.89 148.05 L219.69 147.40 L220.51 146.74 L221.34 146.06 L222.19 145.37 L223.05 144.66 L223.93 143.93 L224.81 143.19 L225.71 142.44 L226.65 141.65 L227.65 140.79 L228.71 139.88 L229.81 138.94 L230.94 137.97 L232.09 136.98 L233.24 135.98 L234.39 134.98 L235.53 133.99 L236.63 133.03 L237.69 132.10 L238.70 131.22 L239.65 130.38 L240.52 129.62 L241.30 128.93 L241.99 128.33 L242.55 127.82 L242.98 127.43 L243.30 127.11 L243.53 126.86 L243.71 126.63 L243.86 126.37 L243.96 126.10 L243.98 126.01 L243.93 126.15 L243.87 126.26 L243.89 126.24 L244.00 126.12 L244.23 125.90 L244.58 125.59 L245.08 125.17 L245.73 124.62 L246.53 123.96 L247.44 123.22 L248.44 122.40 L249.54 121.52 L250.72 120.58 L251.96 119.59 L253.26 118.55 L254.61 117.48 L255.99 116.37 L257.40 115.25 L258.82 114.11 L260.25 112.97 L261.68 111.83 L263.08 110.69 L264.46 109.57 L265.81 108.48 L267.15 107.37 L268.55 106.23 L269.98 105.04 L271.44 103.84 L272.92 102.61 L274.42 101.37 L275.91 100.13 L277.40 98.89 L278.87 97.67 L280.31 96.46 L281.72 95.28 L283.08 94.14 L284.40 93.04 L285.64 91.99 L286.82 91.00 L287.92 90.08 L288.93 89.22 L289.86 88.43 L290.73 87.70 L291.55 87.02 L292.31 86.37 L293.02 85.77 L293.71 85.19 L294.36 84.62 L295.00 84.08 L295.62 83.53 L296.24 82.99 L296.86 82.43 L297.49 81.86 L298.14 81.27 L298.82 80.64 L299.53 79.98 L300.26 79.29 L301.00 78.58 L301.73 77.85 L302.47 77.11 L303.21 76.36 L303.95 75.61 L304.69 74.86 L305.42 74.10 L306.15 73.34 L306.88 72.59 L307.60 71.84 L308.31 71.10 L309.02 70.37 L309.71 69.65 L310.40 68.94 L311.07 68.25 L311.74 67.57 L312.40 66.90 L313.05 66.24 L313.70 65.59 L314.34 64.94 L314.97 64.30 L315.60 63.66 L316.22 63.03 L316.84 62.40 L317.46 61.77 L318.07 61.15 L318.68 60.53 L319.28 59.90 L319.89 59.28 L320.49 58.66 L321.08 58.04 L321.66 57.43 L322.21 56.86 L322.73 56.31 L323.24 55.78 L323.74 55.26 L324.23 54.74 L324.72 54.22 L325.22 53.69 L325.73 53.15 L326.26 52.58 L326.81 51.98 L327.39 51.34 L328.01 50.66 L328.66 49.93 L329.37 49.15 L330.12 48.29 L330.93 47.38 L331.80 46.39 L332.71 45.35 L333.65 44.26 L334.63 43.13 L335.65 41.96 L336.68 40.76 L337.73 39.53 L338.80 38.30 L339.87 37.05 L340.94 35.80 L342.01 34.56 L343.07 33.33 L344.11 32.12 L345.14 30.93 L346.13 29.78 L347.13 28.63 L348.16 27.44 L349.21 26.23 L350.28 25.01 L351.35 23.77 L352.42 22.54 L353.49 21.31 L354.54 20.10 L355.57 18.92 L356.57 17.77 L357.54 16.65 L358.47 15.59 L359.35 14.58 L360.17 13.64 L360.93 12.78 L361.62 11.99 L362.25 11.29 L362.82 10.64 L363.34 10.06 L363.82 9.54 L364.25 9.06 L364.64 8.64 L364.99 8.26 L365.31 7.91 L365.60 7.60 L365.87 7.32 L366.11 7.07 L366.33 6.84 L366.54 6.62 L366.74 6.41 L366.92 6.21 L367.10 6.02 L364.90 3.98 L364.73 4.17 L364.55 4.35 L364.36 4.55 L364.16 4.77 L363.94 5.00 L363.69 5.26 L363.42 5.55 L363.12 5.86 L362.80 6.21 L362.43 6.61 L362.03 7.04 L361.60 7.52 L361.11 8.06 L360.59 8.64 L360.01 9.29 L359.38 10.01 L358.68 10.80 L357.92 11.67 L357.09 12.61 L356.21 13.62 L355.28 14.68 L354.31 15.79 L353.31 16.95 L352.27 18.13 L351.22 19.34 L350.16 20.57 L349.08 21.81 L348.01 23.04 L346.95 24.27 L345.90 25.48 L344.87 26.66 L343.87 27.82 L342.87 28.97 L341.84 30.16 L340.79 31.37 L339.73 32.60 L338.66 33.85 L337.59 35.10 L336.52 36.34 L335.46 37.58 L334.41 38.80 L333.37 40.00 L332.37 41.16 L331.39 42.29 L330.44 43.38 L329.54 44.42 L328.68 45.39 L327.88 46.31 L327.13 47.15 L326.43 47.93 L325.78 48.65 L325.17 49.32 L324.60 49.95 L324.05 50.54 L323.53 51.10 L323.03 51.64 L322.54 52.17 L322.05 52.68 L321.57 53.19 L321.07 53.71 L320.57 54.24 L320.04 54.79 L319.49 55.36 L318.92 55.96 L318.32 56.58 L317.73 57.20 L317.13 57.82 L316.53 58.43 L315.93 59.05 L315.32 59.67 L314.71 60.29 L314.09 60.92 L313.47 61.55 L312.84 62.19 L312.20 62.83 L311.56 63.48 L310.91 64.13 L310.26 64.80 L309.60 65.47 L308.93 66.15 L308.25 66.85 L307.56 67.56 L306.86 68.28 L306.15 69.02 L305.44 69.76 L304.72 70.51 L303.99 71.26 L303.27 72.01 L302.54 72.77 L301.81 73.51 L301.08 74.26 L300.35 74.99 L299.62 75.72 L298.90 76.43 L298.18 77.13 L297.47 77.82 L296.78 78.48 L296.13 79.10 L295.50 79.68 L294.88 80.25 L294.28 80.80 L293.68 81.34 L293.07 81.88 L292.45 82.43 L291.81 82.99 L291.14 83.57 L290.43 84.18 L289.68 84.83 L288.88 85.52 L288.02 86.26 L287.09 87.06 L286.08 87.92 L285.00 88.86 L283.83 89.86 L282.60 90.92 L281.30 92.03 L279.95 93.19 L278.55 94.38 L277.12 95.60 L275.67 96.84 L274.19 98.09 L272.71 99.34 L271.24 100.60 L269.77 101.84 L268.32 103.06 L266.90 104.25 L265.52 105.41 L264.19 106.52 L262.87 107.63 L261.50 108.76 L260.11 109.90 L258.70 111.06 L257.29 112.21 L255.88 113.37 L254.48 114.50 L253.11 115.62 L251.78 116.71 L250.48 117.76 L249.25 118.76 L248.08 119.72 L246.99 120.62 L245.98 121.45 L245.07 122.21 L244.27 122.88 L243.61 123.45 L243.09 123.90 L242.71 124.25 L242.42 124.53 L242.21 124.75 L242.03 124.98 L241.88 125.25 L241.80 125.51 L241.80 125.53 L241.85 125.40 L241.89 125.34 L241.84 125.40 L241.69 125.56 L241.43 125.82 L241.05 126.19 L240.51 126.67 L239.84 127.28 L239.06 127.97 L238.20 128.73 L237.25 129.56 L236.24 130.44 L235.18 131.37 L234.08 132.33 L232.95 133.32 L231.80 134.31 L230.65 135.31 L229.50 136.30 L228.37 137.27 L227.28 138.21 L226.22 139.12 L225.22 139.97 L224.29 140.76 L223.40 141.51 L222.52 142.24 L221.65 142.96 L220.80 143.67 L219.95 144.36 L219.12 145.03 L218.31 145.69 L217.51 146.34 L216.73 146.97 L215.97 147.58 L215.22 148.18 L214.50 148.77 L213.79 149.33 L213.11 149.89 L212.44 150.43 L211.80 150.95 L211.19 151.45 L210.62 151.92 L210.08 152.37 L209.56 152.79 L209.07 153.20 L208.61 153.59 L208.15 153.97 L207.72 154.33 L207.29 154.68 L206.87 155.03 L206.45 155.38 L206.04 155.72 L205.62 156.07 L205.19 156.42 L204.75 156.78 L204.30 157.15 L203.85 157.52 L203.39 157.90 L202.93 158.27 L202.47 158.65 L202.01 159.02 L201.55 159.39 L201.09 159.76 L200.64 160.13 L200.19 160.49 L199.74 160.85 L199.29 161.21 L198.85 161.56 L198.41 161.91 L197.98 162.26 L197.55 162.60 L197.12 162.94 L196.70 163.27 L196.28 163.59 L195.87 163.91 L195.47 164.23 L195.07 164.54 L194.67 164.85 L194.27 165.16 L193.88 165.46 L193.49 165.76 L193.10 166.06 L192.71 166.35 L192.32 166.65 L191.93 166.94 L191.54 167.23 L191.14 167.52 L190.75 167.81 L190.35 168.11 L189.95 168.40 L189.55 168.69 L189.16 168.98 L188.76 169.26 L188.36 169.55 L187.96 169.83 L187.56 170.11 L187.17 170.39 L186.77 170.67 L186.37 170.95 L185.98 171.22 L185.58 171.49 L185.19 171.76 L184.79 172.02 L184.40 172.28 L184.00 172.54 L183.60 172.80 L183.20 173.06 L182.81 173.32 L182.41 173.57 L182.02 173.82 L181.62 174.07 L181.23 174.31 L180.83 174.56 L180.44 174.79 L180.05 175.03 L179.66 175.26 L179.26 175.48 L178.87 175.70 L178.48 175.92 L178.09 176.13 L177.70 176.33 L177.31 176.52 L176.91 176.71 L176.52 176.90 L176.12 177.08 L175.72 177.26 L175.32 177.43 L174.92 177.60 L174.51 177.78 L174.11 177.95 L173.70 178.12 L173.29 178.29 L172.88 178.46 L172.47 178.64 L172.06 178.81 L171.65 178.99 L171.25 179.18 L170.84 179.36 L170.44 179.54 L170.04 179.73 L169.63 179.91 L169.23 180.09 L168.84 180.28 L168.44 180.46 L168.04 180.64 L167.65 180.82 L167.25 180.99 L166.86 181.17 L166.46 181.34 L166.07 181.51 L165.68 181.67 L165.28 181.83 L164.89 181.99 L164.49 182.16 L164.09 182.32 L163.69 182.48 L163.29 182.64 L162.90 182.79 L162.51 182.95 L162.11 183.10 L161.72 183.25 L161.33 183.39 L160.94 183.53 L160.55 183.66 L160.16 183.79 L159.78 183.91 L159.39 184.03 L159.01 184.14 L158.62 184.24 L158.23 184.34 L157.84 184.44 L157.45 184.53 L157.06 184.61 L156.67 184.70 L156.27 184.77 L155.88 184.85 L155.49 184.92 L155.09 184.98 L154.70 185.04 L154.31 185.10 L153.91 185.16 L153.52 185.21 L153.12 185.26 L152.72 185.31 L152.33 185.35 L151.94 185.39 L151.54 185.43 L151.15 185.46 L150.75 185.49 L150.36 185.52 L149.96 185.54 L149.57 185.56 L149.18 185.58 L148.78 185.59 L148.39 185.60 L148.00 185.61 L147.60 185.61 L147.21 185.61 L146.82 185.61 L146.43 185.60 L146.04 185.59 L145.67 185.58 L145.30 185.56 L144.95 185.54 L144.60 185.52 L144.24 185.49 L143.89 185.46 L143.53 185.42 L143.16 185.39 L142.79 185.34 L142.39 185.30 L141.99 185.25 L141.56 185.20 L141.11 185.14 L140.64 185.08 L140.15 185.01 L139.62 184.94 L139.06 184.86 L138.47 184.78 L137.86 184.69 L137.23 184.60 L136.59 184.50 L135.93 184.40 L135.27 184.30 L134.60 184.20 L133.94 184.09 L133.28 183.98 L132.63 183.87 L132.00 183.76 L131.38 183.64 L130.78 183.53 L130.22 183.42 L129.67 183.31 L129.14 183.20 L128.62 183.08 L128.12 182.97 L127.63 182.85 L127.14 182.74 L126.66 182.62 L126.19 182.50 L125.71 182.37 L125.24 182.25 L124.76 182.12 L124.29 181.99 L123.80 181.86 L123.31 181.72 L122.81 181.58 L122.30 181.44 L121.77 181.29 L121.24 181.14 L120.70 180.99 L120.15 180.83 L119.60 180.66 L119.04 180.50 L118.48 180.33 L117.92 180.16 L117.37 179.99 L116.81 179.82 L116.27 179.65 L115.74 179.49 L115.22 179.32 L114.71 179.16 L114.21 179.00 L113.74 178.85 L113.28 178.71 L112.84 178.56 L112.41 178.42 L111.99 178.28 L111.59 178.15 L111.19 178.02 L110.80 177.88 L110.42 177.75 L110.04 177.62 L109.67 177.49 L109.29 177.36 L108.92 177.23 L108.54 177.09 L108.16 176.95 L107.77 176.81 L107.38 176.67 L106.98 176.52 L106.58 176.37 L106.19 176.23 L105.79 176.08 L105.39 175.93 L105.00 175.78 L104.60 175.63 L104.20 175.47 L103.81 175.32 L103.41 175.16 L103.02 175.01 L102.62 174.85 L102.22 174.69 L101.83 174.52 L101.43 174.36 L101.03 174.19 L100.63 174.02 L100.23 173.84 L99.83 173.67 L99.42 173.49 L99.02 173.31 L98.62 173.13 L98.21 172.95 L97.81 172.76 L97.41 172.58 L97.00 172.39 L96.60 172.20 L96.20 172.01 L95.79 171.81 L95.39 171.62 L94.99 171.42 L94.59 171.22 L94.19 171.01 L93.79 170.81 L93.39 170.61 L92.99 170.41 L92.59 170.21 L92.20 170.01 L91.80 169.80 L91.41 169.59 L91.02 169.38 L90.63 169.17 L90.24 168.95 L89.85 168.73 L89.46 168.50 L89.07 168.27 L88.69 168.03 L88.30 167.78 L87.91 167.52 L87.51 167.26 L87.12 166.99 L86.72 166.73 L86.33 166.46 L85.94 166.18 L85.55 165.90 L85.16 165.61 L84.77 165.32 L84.38 165.02 L83.99 164.71 L83.60 164.40 L83.21 164.08 L82.83 163.74 L82.44 163.40 L82.05 163.04 L81.65 162.67 L81.24 162.28 L80.82 161.87 L80.40 161.44 L79.97 161.00 L79.54 160.55 L79.11 160.10 L78.69 159.64 L78.27 159.18 L77.86 158.72 L77.46 158.27 L77.08 157.82 L76.71 157.38 L76.36 156.95 L76.03 156.53 L75.73 156.14 L75.45 155.76 L75.19 155.39 L74.95 155.02 L74.72 154.65 L74.50 154.28 L74.29 153.92 L74.10 153.56 L73.91 153.20 L73.73 152.85 L73.56 152.50 L73.39 152.16 L73.23 151.82 L73.06 151.48 L72.90 151.15 L72.74 150.82 L72.58 150.50 L72.43 150.20 L72.28 149.92 L72.15 149.66 L72.02 149.41 L71.90 149.17 L71.79 148.94 L71.69 148.71 L71.58 148.49 L71.49 148.28 L71.39 148.06 L71.30 147.84 L71.21 147.62 L71.12 147.39 L71.03 147.15 L70.93 146.90 L70.84 146.63 L70.74 146.35 L70.64 146.09 L70.55 145.83 L70.46 145.58 L70.37 145.34 L70.29 145.09 L70.21 144.84 L70.13 144.59 L70.05 144.32 L69.97 144.04 L69.89 143.73 L69.81 143.41 L69.73 143.06 L69.65 142.67 L69.57 142.26 L69.48 141.81 L69.40 141.30 L69.30 140.74 L69.21 140.14 L69.12 139.49 L69.02 138.80 L68.92 138.10 L68.82 137.37 L68.73 136.64 L68.63 135.91 L68.54 135.18 L68.46 134.46 L68.37 133.77 L68.29 133.11 L68.22 132.48 L68.15 131.90 L68.09 131.38 L68.04 130.89 L67.99 130.43 L67.95 129.98 L67.92 129.56 L67.88 129.15 L67.86 128.75 L67.83 128.38 L67.81 128.03 L67.79 127.70 L67.78 127.38 L67.76 127.09 L67.75 126.82 L67.73 126.56 L67.72 126.33 L67.71 126.12 L67.70 125.93 Z" fill="#000"/>
  <path d="M329.2 32.8 V48" fill="none" stroke="#000" stroke-width="2.2"/>
  <path d="M67.00 197.50 C74.17 196.08 96.17 191.71 110.00 189.00 C123.83 186.29 138.83 183.38 150.00 181.25 C161.17 179.12 167.00 178.29 177.00 176.25 C187.00 174.21 199.08 171.38 210.00 169.00 C220.92 166.62 233.00 164.21 242.50 162.00 C252.00 159.79 259.58 157.50 267.00 155.75 C274.42 154.00 280.67 153.17 287.00 151.50 C293.33 149.83 299.92 147.58 305.00 145.75 C310.08 143.92 313.33 141.79 317.50 140.50 C321.67 139.21 325.83 138.29 330.00 138.00 C334.17 137.71 339.17 138.17 342.50 138.75 C345.83 139.33 347.92 140.12 350.00 141.50 C352.08 142.88 353.33 144.88 355.00 147.00 C356.67 149.12 358.67 151.90 360.00 154.20 C361.33 156.50 361.97 158.25 363.00 160.80 C364.03 163.35 365.12 165.97 366.20 169.50 C367.28 173.03 368.37 177.42 369.50 182.00 C370.63 186.58 371.88 192.17 373.00 197.00 C374.12 201.83 375.08 206.33 376.25 211.00 C377.42 215.67 378.96 220.83 380.00 225.00 C381.04 229.17 381.77 231.50 382.50 236.00 C383.23 240.50 383.90 247.50 384.40 252.00 C384.90 256.50 385.17 258.33 385.50 263.00 C385.83 267.67 386.18 275.17 386.40 280.00 C386.62 284.83 386.70 289.17 386.80 292.00 C386.90 294.83 386.93 295.17 387.00 297.00 C387.07 298.83 387.17 302.00 387.20 303.00" fill="none" stroke="#ff0000" stroke-width="2.5"/>
  <path d="M65.50 126.07 L65.51 126.25 L65.53 126.45 L65.54 126.68 L65.55 126.93 L65.56 127.20 L65.58 127.50 L65.60 127.82 L65.61 128.16 L65.64 128.52 L65.66 128.91 L65.69 129.31 L65.72 129.73 L65.76 130.18 L65.80 130.64 L65.85 131.12 L65.91 131.62 L65.97 132.15 L66.03 132.74 L66.11 133.37 L66.19 134.03 L66.27 134.73 L66.36 135.45 L66.45 136.18 L66.55 136.92 L66.64 137.66 L66.74 138.39 L66.84 139.11 L66.94 139.80 L67.04 140.46 L67.13 141.09 L67.23 141.67 L67.32 142.19 L67.41 142.67 L67.49 143.12 L67.58 143.53 L67.67 143.91 L67.76 144.27 L67.85 144.61 L67.93 144.93 L68.02 145.23 L68.11 145.51 L68.20 145.79 L68.29 146.06 L68.39 146.32 L68.48 146.58 L68.57 146.83 L68.67 147.10 L68.76 147.37 L68.87 147.65 L68.97 147.92 L69.07 148.19 L69.17 148.44 L69.27 148.69 L69.37 148.93 L69.48 149.17 L69.58 149.41 L69.69 149.65 L69.81 149.89 L69.93 150.13 L70.05 150.39 L70.18 150.65 L70.32 150.92 L70.47 151.20 L70.62 151.50 L70.77 151.80 L70.93 152.11 L71.08 152.44 L71.24 152.77 L71.41 153.12 L71.58 153.47 L71.77 153.84 L71.96 154.21 L72.16 154.60 L72.37 154.99 L72.60 155.39 L72.84 155.79 L73.10 156.20 L73.37 156.62 L73.66 157.04 L73.97 157.46 L74.30 157.89 L74.65 158.33 L75.01 158.78 L75.40 159.24 L75.80 159.70 L76.21 160.18 L76.64 160.65 L77.07 161.13 L77.51 161.60 L77.95 162.07 L78.39 162.53 L78.83 162.99 L79.27 163.43 L79.71 163.85 L80.13 164.26 L80.55 164.66 L80.97 165.03 L81.38 165.40 L81.79 165.75 L82.20 166.10 L82.62 166.43 L83.03 166.76 L83.44 167.07 L83.85 167.38 L84.26 167.68 L84.66 167.97 L85.07 168.26 L85.48 168.54 L85.89 168.82 L86.29 169.09 L86.70 169.36 L87.10 169.62 L87.51 169.89 L87.92 170.14 L88.34 170.39 L88.75 170.63 L89.15 170.87 L89.56 171.10 L89.97 171.32 L90.38 171.54 L90.78 171.75 L91.19 171.96 L91.59 172.17 L92.00 172.37 L92.40 172.58 L92.80 172.78 L93.20 172.98 L93.61 173.18 L94.01 173.39 L94.42 173.59 L94.83 173.79 L95.24 173.99 L95.66 174.18 L96.07 174.38 L96.48 174.57 L96.89 174.76 L97.30 174.95 L97.71 175.14 L98.12 175.32 L98.54 175.50 L98.94 175.68 L99.35 175.86 L99.76 176.04 L100.17 176.21 L100.58 176.38 L100.98 176.55 L101.39 176.72 L101.79 176.89 L102.20 177.05 L102.60 177.21 L103.01 177.37 L103.41 177.53 L103.81 177.68 L104.21 177.83 L104.61 177.99 L105.02 178.14 L105.42 178.29 L105.82 178.44 L106.22 178.58 L106.62 178.73 L107.02 178.88 L107.41 179.02 L107.80 179.16 L108.18 179.30 L108.56 179.43 L108.94 179.57 L109.32 179.70 L109.70 179.83 L110.09 179.97 L110.49 180.10 L110.89 180.24 L111.30 180.37 L111.72 180.51 L112.15 180.65 L112.60 180.80 L113.06 180.95 L113.54 181.10 L114.04 181.26 L114.55 181.42 L115.08 181.59 L115.62 181.75 L116.17 181.92 L116.72 182.09 L117.28 182.26 L117.84 182.44 L118.41 182.61 L118.97 182.77 L119.53 182.94 L120.09 183.10 L120.64 183.26 L121.18 183.41 L121.70 183.56 L122.22 183.70 L122.72 183.84 L123.22 183.98 L123.71 184.11 L124.19 184.24 L124.67 184.37 L125.15 184.50 L125.64 184.63 L126.13 184.75 L126.62 184.87 L127.12 184.99 L127.63 185.11 L128.15 185.23 L128.68 185.35 L129.22 185.46 L129.78 185.58 L130.37 185.69 L130.98 185.81 L131.61 185.92 L132.26 186.04 L132.92 186.15 L133.58 186.26 L134.26 186.37 L134.93 186.47 L135.60 186.58 L136.26 186.68 L136.91 186.78 L137.55 186.87 L138.16 186.96 L138.76 187.04 L139.32 187.12 L139.85 187.19 L140.35 187.26 L140.83 187.32 L141.28 187.38 L141.72 187.43 L142.13 187.48 L142.54 187.53 L142.93 187.57 L143.31 187.61 L143.69 187.65 L144.07 187.68 L144.44 187.71 L144.81 187.73 L145.19 187.76 L145.58 187.77 L145.97 187.79 L146.37 187.80 L146.79 187.81 L147.20 187.81 L147.61 187.81 L148.02 187.81 L148.43 187.80 L148.85 187.79 L149.26 187.78 L149.67 187.76 L150.09 187.74 L150.50 187.72 L150.91 187.69 L151.33 187.66 L151.74 187.62 L152.15 187.58 L152.56 187.54 L152.98 187.49 L153.39 187.44 L153.80 187.39 L154.21 187.34 L154.62 187.28 L155.03 187.22 L155.45 187.15 L155.86 187.08 L156.27 187.01 L156.69 186.93 L157.10 186.85 L157.52 186.77 L157.93 186.68 L158.35 186.58 L158.76 186.48 L159.18 186.37 L159.59 186.26 L160.01 186.14 L160.43 186.02 L160.84 185.88 L161.26 185.75 L161.67 185.61 L162.08 185.46 L162.49 185.31 L162.89 185.16 L163.30 185.00 L163.71 184.84 L164.11 184.68 L164.51 184.52 L164.91 184.36 L165.31 184.19 L165.71 184.03 L166.12 183.87 L166.52 183.70 L166.93 183.53 L167.33 183.36 L167.74 183.18 L168.14 183.00 L168.55 182.82 L168.95 182.64 L169.35 182.46 L169.75 182.28 L170.15 182.09 L170.55 181.91 L170.95 181.73 L171.35 181.55 L171.75 181.36 L172.15 181.18 L172.55 181.01 L172.94 180.83 L173.34 180.66 L173.74 180.49 L174.15 180.32 L174.55 180.15 L174.96 179.97 L175.37 179.80 L175.78 179.63 L176.19 179.45 L176.61 179.27 L177.02 179.08 L177.44 178.90 L177.86 178.70 L178.28 178.50 L178.69 178.29 L179.11 178.07 L179.53 177.85 L179.94 177.63 L180.35 177.40 L180.76 177.16 L181.17 176.92 L181.57 176.68 L181.98 176.43 L182.38 176.19 L182.79 175.93 L183.19 175.68 L183.60 175.42 L184.00 175.17 L184.40 174.91 L184.80 174.64 L185.20 174.38 L185.60 174.12 L186.01 173.85 L186.41 173.58 L186.82 173.31 L187.22 173.03 L187.63 172.76 L188.03 172.48 L188.43 172.19 L188.84 171.91 L189.24 171.62 L189.64 171.34 L190.04 171.05 L190.44 170.76 L190.85 170.47 L191.25 170.17 L191.65 169.88 L192.05 169.59 L192.45 169.29 L192.85 169.00 L193.25 168.70 L193.64 168.40 L194.04 168.11 L194.43 167.81 L194.82 167.51 L195.22 167.20 L195.62 166.90 L196.01 166.59 L196.42 166.28 L196.82 165.97 L197.23 165.65 L197.64 165.32 L198.06 165.00 L198.48 164.66 L198.91 164.33 L199.34 163.98 L199.78 163.63 L200.22 163.28 L200.67 162.93 L201.12 162.57 L201.57 162.20 L202.02 161.84 L202.48 161.47 L202.94 161.10 L203.39 160.73 L203.85 160.35 L204.31 159.98 L204.78 159.60 L205.24 159.23 L205.70 158.85 L206.15 158.48 L206.59 158.12 L207.02 157.77 L207.44 157.42 L207.86 157.07 L208.27 156.73 L208.69 156.38 L209.12 156.02 L209.56 155.66 L210.01 155.28 L210.48 154.89 L210.97 154.49 L211.48 154.06 L212.02 153.62 L212.59 153.15 L213.20 152.65 L213.83 152.13 L214.49 151.60 L215.17 151.05 L215.88 150.48 L216.60 149.90 L217.35 149.30 L218.11 148.68 L218.89 148.05 L219.69 147.40 L220.51 146.74 L221.34 146.06 L222.19 145.37 L223.05 144.66 L223.93 143.93 L224.81 143.19 L225.71 142.44 L226.65 141.65 L227.65 140.79 L228.71 139.88 L229.81 138.94 L230.94 137.97 L232.09 136.98 L233.24 135.98 L234.39 134.98 L235.53 133.99 L236.63 133.03 L237.69 132.10 L238.70 131.22 L239.65 130.38 L240.52 129.62 L241.30 128.93 L241.99 128.33 L242.55 127.82 L242.98 127.43 L243.30 127.11 L243.53 126.86 L243.71 126.63 L243.86 126.37 L243.96 126.10 L243.98 126.01 L243.93 126.15 L243.87 126.26 L243.89 126.24 L244.00 126.12 L244.23 125.90 L244.58 125.59 L245.08 125.17 L245.73 124.62 L246.53 123.96 L247.44 123.22 L248.44 122.40 L249.54 121.52 L250.72 120.58 L251.96 119.59 L253.26 118.55 L254.61 117.48 L255.99 116.37 L257.40 115.25 L258.82 114.11 L260.25 112.97 L261.68 111.83 L263.08 110.69 L264.46 109.57 L265.81 108.48 L267.15 107.37 L268.55 106.23 L269.98 105.04 L271.44 103.84 L272.92 102.61 L274.42 101.37 L275.91 100.13 L277.40 98.89 L278.87 97.67 L280.31 96.46 L281.72 95.28 L283.08 94.14 L284.40 93.04 L285.64 91.99 L286.82 91.00 L287.92 90.08 L288.93 89.22 L289.86 88.43 L290.73 87.70 L291.55 87.02 L292.31 86.37 L293.02 85.77 L293.71 85.19 L294.36 84.62 L295.00 84.08 L295.62 83.53 L296.24 82.99 L296.86 82.43 L297.49 81.86 L298.14 81.27 L298.82 80.64 L299.53 79.98 L300.26 79.29 L301.00 78.58 L301.73 77.85 L302.47 77.11 L303.21 76.36 L303.95 75.61 L304.69 74.86 L305.42 74.10 L306.15 73.34 L306.88 72.59 L307.60 71.84 L308.31 71.10 L309.02 70.37 L309.71 69.65 L310.40 68.94 L311.07 68.25 L311.74 67.57 L312.40 66.90 L313.05 66.24 L313.70 65.59 L314.34 64.94 L314.97 64.30 L315.60 63.66 L316.22 63.03 L316.84 62.40 L317.46 61.77 L318.07 61.15 L318.68 60.53 L319.28 59.90 L319.89 59.28 L320.49 58.66 L321.08 58.04 L321.66 57.43 L322.21 56.86 L322.73 56.31 L323.24 55.78 L323.74 55.26 L324.23 54.74 L324.72 54.22 L325.22 53.69 L325.73 53.15 L326.26 52.58 L326.81 51.98 L327.39 51.34 L328.01 50.66 L328.66 49.93 L329.37 49.15 L330.12 48.29 L330.93 47.38 L331.80 46.39 L332.71 45.35 L333.65 44.26 L334.63 43.13 L335.65 41.96 L336.68 40.76 L337.73 39.53 L338.80 38.30 L339.87 37.05 L340.94 35.80 L342.01 34.56 L343.07 33.33 L344.11 32.12 L345.14 30.93 L346.13 29.78 L347.13 28.63 L348.16 27.44 L349.21 26.23 L350.28 25.01 L351.35 23.77 L352.42 22.54 L353.49 21.31 L354.54 20.10 L355.57 18.92 L356.57 17.77 L357.54 16.65 L358.47 15.59 L359.35 14.58 L360.17 13.64 L360.93 12.78 L361.62 11.99 L362.25 11.29 L362.82 10.64 L363.34 10.06 L363.82 9.54 L364.25 9.06 L364.64 8.64 L364.99 8.26 L365.31 7.91 L365.60 7.60 L365.87 7.32 L366.11 7.07 L366.33 6.84 L366.54 6.62 L366.74 6.41 L366.92 6.21 L367.10 6.02 L364.90 3.98 L364.73 4.17 L364.55 4.35 L364.36 4.55 L364.16 4.77 L363.94 5.00 L363.69 5.26 L363.42 5.55 L363.12 5.86 L362.80 6.21 L362.43 6.61 L362.03 7.04 L361.60 7.52 L361.11 8.06 L360.59 8.64 L360.01 9.29 L359.38 10.01 L358.68 10.80 L357.92 11.67 L357.09 12.61 L356.21 13.62 L355.28 14.68 L354.31 15.79 L353.31 16.95 L352.27 18.13 L351.22 19.34 L350.16 20.57 L349.08 21.81 L348.01 23.04 L346.95 24.27 L345.90 25.48 L344.87 26.66 L343.87 27.82 L342.87 28.97 L341.84 30.16 L340.79 31.37 L339.73 32.60 L338.66 33.85 L337.59 35.10 L336.52 36.34 L335.46 37.58 L334.41 38.80 L333.37 40.00 L332.37 41.16 L331.39 42.29 L330.44 43.38 L329.54 44.42 L328.68 45.39 L327.88 46.31 L327.13 47.15 L326.43 47.93 L325.78 48.65 L325.17 49.32 L324.60 49.95 L324.05 50.54 L323.53 51.10 L323.03 51.64 L322.54 52.17 L322.05 52.68 L321.57 53.19 L321.07 53.71 L320.57 54.24 L320.04 54.79 L319.49 55.36 L318.92 55.96 L318.32 56.58 L317.73 57.20 L317.13 57.82 L316.53 58.43 L315.93 59.05 L315.32 59.67 L314.71 60.29 L314.09 60.92 L313.47 61.55 L312.84 62.19 L312.20 62.83 L311.56 63.48 L310.91 64.13 L310.26 64.80 L309.60 65.47 L308.93 66.15 L308.25 66.85 L307.56 67.56 L306.86 68.28 L306.15 69.02 L305.44 69.76 L304.72 70.51 L303.99 71.26 L303.27 72.01 L302.54 72.77 L301.81 73.51 L301.08 74.26 L300.35 74.99 L299.62 75.72 L298.90 76.43 L298.18 77.13 L297.47 77.82 L296.78 78.48 L296.13 79.10 L295.50 79.68 L294.88 80.25 L294.28 80.80 L293.68 81.34 L293.07 81.88 L292.45 82.43 L291.81 82.99 L291.14 83.57 L290.43 84.18 L289.68 84.83 L288.88 85.52 L288.02 86.26 L287.09 87.06 L286.08 87.92 L285.00 88.86 L283.83 89.86 L282.60 90.92 L281.30 92.03 L279.95 93.19 L278.55 94.38 L277.12 95.60 L275.67 96.84 L274.19 98.09 L272.71 99.34 L271.24 100.60 L269.77 101.84 L268.32 103.06 L266.90 104.25 L265.52 105.41 L264.19 106.52 L262.87 107.63 L261.50 108.76 L260.11 109.90 L258.70 111.06 L257.29 112.21 L255.88 113.37 L254.48 114.50 L253.11 115.62 L251.78 116.71 L250.48 117.76 L249.25 118.76 L248.08 119.72 L246.99 120.62 L245.98 121.45 L245.07 122.21 L244.27 122.88 L243.61 123.45 L243.09 123.90 L242.71 124.25 L242.42 124.53 L242.21 124.75 L242.03 124.98 L241.88 125.25 L241.80 125.51 L241.80 125.53 L241.85 125.40 L241.89 125.34 L241.84 125.40 L241.69 125.56 L241.43 125.82 L241.05 126.19 L240.51 126.67 L239.84 127.28 L239.06 127.97 L238.20 128.73 L237.25 129.56 L236.24 130.44 L235.18 131.37 L234.08 132.33 L232.95 133.32 L231.80 134.31 L230.65 135.31 L229.50 136.30 L228.37 137.27 L227.28 138.21 L226.22 139.12 L225.22 139.97 L224.29 140.76 L223.40 141.51 L222.52 142.24 L221.65 142.96 L220.80 143.67 L219.95 144.36 L219.12 145.03 L218.31 145.69 L217.51 146.34 L216.73 146.97 L215.97 147.58 L215.22 148.18 L214.50 148.77 L213.79 149.33 L213.11 149.89 L212.44 150.43 L211.80 150.95 L211.19 151.45 L210.62 151.92 L210.08 152.37 L209.56 152.79 L209.07 153.20 L208.61 153.59 L208.15 153.97 L207.72 154.33 L207.29 154.68 L206.87 155.03 L206.45 155.38 L206.04 155.72 L205.62 156.07 L205.19 156.42 L204.75 156.78 L204.30 157.15 L203.85 157.52 L203.39 157.90 L202.93 158.27 L202.47 158.65 L202.01 159.02 L201.55 159.39 L201.09 159.76 L200.64 160.13 L200.19 160.49 L199.74 160.85 L199.29 161.21 L198.85 161.56 L198.41 161.91 L197.98 162.26 L197.55 162.60 L197.12 162.94 L196.70 163.27 L196.28 163.59 L195.87 163.91 L195.47 164.23 L195.07 164.54 L194.67 164.85 L194.27 165.16 L193.88 165.46 L193.49 165.76 L193.10 166.06 L192.71 166.35 L192.32 166.65 L191.93 166.94 L191.54 167.23 L191.14 167.52 L190.75 167.81 L190.35 168.11 L189.95 168.40 L189.55 168.69 L189.16 168.98 L188.76 169.26 L188.36 169.55 L187.96 169.83 L187.56 170.11 L187.17 170.39 L186.77 170.67 L186.37 170.95 L185.98 171.22 L185.58 171.49 L185.19 171.76 L184.79 172.02 L184.40 172.28 L184.00 172.54 L183.60 172.80 L183.20 173.06 L182.81 173.32 L182.41 173.57 L182.02 173.82 L181.62 174.07 L181.23 174.31 L180.83 174.56 L180.44 174.79 L180.05 175.03 L179.66 175.26 L179.26 175.48 L178.87 175.70 L178.48 175.92 L178.09 176.13 L177.70 176.33 L177.31 176.52 L176.91 176.71 L176.52 176.90 L176.12 177.08 L175.72 177.26 L175.32 177.43 L174.92 177.60 L174.51 177.78 L174.11 177.95 L173.70 178.12 L173.29 178.29 L172.88 178.46 L172.47 178.64 L172.06 178.81 L171.65 178.99 L171.25 179.18 L170.84 179.36 L170.44 179.54 L170.04 179.73 L169.63 179.91 L169.23 180.09 L168.84 180.28 L168.44 180.46 L168.04 180.64 L167.65 180.82 L167.25 180.99 L166.86 181.17 L166.46 181.34 L166.07 181.51 L165.68 181.67 L165.28 181.83 L164.89 181.99 L164.49 182.16 L164.09 182.32 L163.69 182.48 L163.29 182.64 L162.90 182.79 L162.51 182.95 L162.11 183.10 L161.72 183.25 L161.33 183.39 L160.94 183.53 L160.55 183.66 L160.16 183.79 L159.78 183.91 L159.39 184.03 L159.01 184.14 L158.62 184.24 L158.23 184.34 L157.84 184.44 L157.45 184.53 L157.06 184.61 L156.67 184.70 L156.27 184.77 L155.88 184.85 L155.49 184.92 L155.09 184.98 L154.70 185.04 L154.31 185.10 L153.91 185.16 L153.52 185.21 L153.12 185.26 L152.72 185.31 L152.33 185.35 L151.94 185.39 L151.54 185.43 L151.15 185.46 L150.75 185.49 L150.36 185.52 L149.96 185.54 L149.57 185.56 L149.18 185.58 L148.78 185.59 L148.39 185.60 L148.00 185.61 L147.60 185.61 L147.21 185.61 L146.82 185.61 L146.43 185.60 L146.04 185.59 L145.67 185.58 L145.30 185.56 L144.95 185.54 L144.60 185.52 L144.24 185.49 L143.89 185.46 L143.53 185.42 L143.16 185.39 L142.79 185.34 L142.39 185.30 L141.99 185.25 L141.56 185.20 L141.11 185.14 L140.64 185.08 L140.15 185.01 L139.62 184.94 L139.06 184.86 L138.47 184.78 L137.86 184.69 L137.23 184.60 L136.59 184.50 L135.93 184.40 L135.27 184.30 L134.60 184.20 L133.94 184.09 L133.28 183.98 L132.63 183.87 L132.00 183.76 L131.38 183.64 L130.78 183.53 L130.22 183.42 L129.67 183.31 L129.14 183.20 L128.62 183.08 L128.12 182.97 L127.63 182.85 L127.14 182.74 L126.66 182.62 L126.19 182.50 L125.71 182.37 L125.24 182.25 L124.76 182.12 L124.29 181.99 L123.80 181.86 L123.31 181.72 L122.81 181.58 L122.30 181.44 L121.77 181.29 L121.24 181.14 L120.70 180.99 L120.15 180.83 L119.60 180.66 L119.04 180.50 L118.48 180.33 L117.92 180.16 L117.37 179.99 L116.81 179.82 L116.27 179.65 L115.74 179.49 L115.22 179.32 L114.71 179.16 L114.21 179.00 L113.74 178.85 L113.28 178.71 L112.84 178.56 L112.41 178.42 L111.99 178.28 L111.59 178.15 L111.19 178.02 L110.80 177.88 L110.42 177.75 L110.04 177.62 L109.67 177.49 L109.29 177.36 L108.92 177.23 L108.54 177.09 L108.16 176.95 L107.77 176.81 L107.38 176.67 L106.98 176.52 L106.58 176.37 L106.19 176.23 L105.79 176.08 L105.39 175.93 L105.00 175.78 L104.60 175.63 L104.20 175.47 L103.81 175.32 L103.41 175.16 L103.02 175.01 L102.62 174.85 L102.22 174.69 L101.83 174.52 L101.43 174.36 L101.03 174.19 L100.63 174.02 L100.23 173.84 L99.83 173.67 L99.42 173.49 L99.02 173.31 L98.62 173.13 L98.21 172.95 L97.81 172.76 L97.41 172.58 L97.00 172.39 L96.60 172.20 L96.20 172.01 L95.79 171.81 L95.39 171.62 L94.99 171.42 L94.59 171.22 L94.19 171.01 L93.79 170.81 L93.39 170.61 L92.99 170.41 L92.59 170.21 L92.20 170.01 L91.80 169.80 L91.41 169.59 L91.02 169.38 L90.63 169.17 L90.24 168.95 L89.85 168.73 L89.46 168.50 L89.07 168.27 L88.69 168.03 L88.30 167.78 L87.91 167.52 L87.51 167.26 L87.12 166.99 L86.72 166.73 L86.33 166.46 L85.94 166.18 L85.55 165.90 L85.16 165.61 L84.77 165.32 L84.38 165.02 L83.99 164.71 L83.60 164.40 L83.21 164.08 L82.83 163.74 L82.44 163.40 L82.05 163.04 L81.65 162.67 L81.24 162.28 L80.82 161.87 L80.40 161.44 L79.97 161.00 L79.54 160.55 L79.11 160.10 L78.69 159.64 L78.27 159.18 L77.86 158.72 L77.46 158.27 L77.08 157.82 L76.71 157.38 L76.36 156.95 L76.03 156.53 L75.73 156.14 L75.45 155.76 L75.19 155.39 L74.95 155.02 L74.72 154.65 L74.50 154.28 L74.29 153.92 L74.10 153.56 L73.91 153.20 L73.73 152.85 L73.56 152.50 L73.39 152.16 L73.23 151.82 L73.06 151.48 L72.90 151.15 L72.74 150.82 L72.58 150.50 L72.43 150.20 L72.28 149.92 L72.15 149.66 L72.02 149.41 L71.90 149.17 L71.79 148.94 L71.69 148.71 L71.58 148.49 L71.49 148.28 L71.39 148.06 L71.30 147.84 L71.21 147.62 L71.12 147.39 L71.03 147.15 L70.93 146.90 L70.84 146.63 L70.74 146.35 L70.64 146.09 L70.55 145.83 L70.46 145.58 L70.37 145.34 L70.29 145.09 L70.21 144.84 L70.13 144.59 L70.05 144.32 L69.97 144.04 L69.89 143.73 L69.81 143.41 L69.73 143.06 L69.65 142.67 L69.57 142.26 L69.48 141.81 L69.40 141.30 L69.30 140.74 L69.21 140.14 L69.12 139.49 L69.02 138.80 L68.92 138.10 L68.82 137.37 L68.73 136.64 L68.63 135.91 L68.54 135.18 L68.46 134.46 L68.37 133.77 L68.29 133.11 L68.22 132.48 L68.15 131.90 L68.09 131.38 L68.04 130.89 L67.99 130.43 L67.95 129.98 L67.92 129.56 L67.88 129.15 L67.86 128.75 L67.83 128.38 L67.81 128.03 L67.79 127.70 L67.78 127.38 L67.76 127.09 L67.75 126.82 L67.73 126.56 L67.72 126.33 L67.71 126.12 L67.70 125.93 Z" fill="#000" clip-path="url(#cp2)"/>
  <path d="M329.2 32.8 V48" fill="none" stroke="#000" stroke-width="2.2"/>
  <path d="M66.63 278.54 L67.25 278.75 L67.96 279.01 L68.78 279.32 L69.69 279.65 L70.68 280.02 L71.74 280.42 L72.87 280.83 L74.06 281.27 L75.30 281.71 L76.58 282.17 L77.90 282.63 L79.24 283.08 L80.59 283.53 L81.96 283.97 L83.33 284.40 L84.69 284.81 L86.09 285.21 L87.56 285.62 L89.11 286.04 L90.71 286.47 L92.35 286.91 L94.03 287.35 L95.72 287.78 L97.42 288.21 L99.12 288.63 L100.79 289.04 L102.44 289.43 L104.04 289.81 L105.59 290.16 L107.07 290.50 L108.47 290.80 L109.78 291.08 L111.01 291.32 L112.19 291.55 L113.32 291.74 L114.40 291.92 L115.43 292.08 L116.43 292.22 L117.39 292.34 L118.31 292.45 L119.20 292.55 L120.07 292.64 L120.91 292.72 L121.73 292.80 L122.54 292.87 L123.33 292.95 L124.11 293.02 L124.89 293.09 L125.65 293.17 L126.37 293.24 L127.06 293.30 L127.71 293.36 L128.34 293.41 L128.95 293.46 L129.54 293.50 L130.13 293.54 L130.71 293.56 L131.29 293.59 L131.87 293.60 L132.46 293.62 L133.07 293.62 L133.70 293.62 L134.35 293.61 L135.02 293.60 L135.73 293.58 L136.44 293.56 L137.16 293.53 L137.89 293.50 L138.63 293.46 L139.38 293.41 L140.14 293.36 L140.90 293.30 L141.67 293.24 L142.44 293.16 L143.22 293.09 L144.01 293.00 L144.79 292.91 L145.58 292.81 L146.37 292.70 L147.16 292.59 L147.93 292.48 L148.70 292.37 L149.46 292.27 L150.23 292.17 L151.01 292.06 L151.79 291.95 L152.58 291.83 L153.38 291.69 L154.19 291.54 L155.02 291.37 L155.86 291.18 L156.73 290.96 L157.61 290.72 L158.51 290.44 L159.44 290.13 L160.39 289.78 L161.38 289.39 L162.40 288.95 L163.45 288.49 L164.53 287.98 L165.63 287.46 L166.75 286.90 L167.88 286.33 L169.01 285.74 L170.14 285.14 L171.27 284.53 L172.38 283.92 L173.48 283.30 L174.55 282.70 L175.59 282.10 L176.60 281.51 L177.56 280.95 L178.50 280.38 L179.41 279.82 L180.29 279.25 L181.15 278.68 L181.99 278.11 L182.82 277.55 L183.63 276.98 L184.42 276.41 L185.21 275.84 L185.99 275.27 L186.76 274.71 L187.53 274.14 L188.30 273.58 L189.07 273.02 L189.85 272.46 L190.64 271.90 L191.42 271.34 L192.20 270.78 L192.95 270.24 L193.69 269.70 L194.43 269.16 L195.16 268.62 L195.89 268.08 L196.62 267.54 L197.36 267.00 L198.12 266.45 L198.89 265.89 L199.68 265.32 L200.49 264.74 L201.33 264.15 L202.21 263.54 L203.12 262.91 L204.09 262.24 L205.11 261.53 L206.17 260.79 L207.27 260.02 L208.40 259.23 L209.54 258.43 L210.70 257.63 L211.87 256.83 L213.03 256.04 L214.19 255.27 L215.33 254.53 L216.44 253.82 L217.53 253.15 L218.57 252.53 L219.56 251.97 L220.50 251.48 L221.39 251.05 L222.24 250.66 L223.06 250.31 L223.86 250.01 L224.63 249.74 L225.38 249.50 L226.11 249.28 L226.83 249.09 L227.55 248.92 L228.26 248.76 L228.98 248.61 L229.70 248.47 L230.43 248.33 L231.18 248.18 L231.94 248.04 L232.72 247.88 L233.49 247.73 L234.27 247.59 L235.06 247.46 L235.86 247.35 L236.66 247.25 L237.47 247.15 L238.27 247.06 L239.08 246.98 L239.88 246.91 L240.67 246.83 L241.45 246.76 L242.22 246.69 L242.98 246.62 L243.72 246.55 L244.44 246.47 L245.13 246.39 L245.79 246.32 L246.43 246.25 L247.06 246.18 L247.67 246.12 L248.27 246.07 L248.87 246.01 L249.45 245.96 L250.02 245.90 L250.57 245.84 L251.12 245.78 L251.67 245.72 L252.20 245.65 L252.72 245.57 L253.24 245.48 L253.75 245.38 L254.25 245.27 L254.74 245.15 L255.22 245.02 L255.68 244.87 L256.12 244.73 L256.55 244.57 L256.97 244.42 L257.37 244.26 L257.77 244.10 L258.14 243.94 L258.51 243.77 L258.87 243.61 L259.21 243.45 L259.55 243.30 L259.87 243.15 L260.19 243.00 L260.50 242.87 L260.81 242.73 L261.11 242.59 L261.40 242.46 L261.68 242.33 L261.95 242.19 L262.21 242.06 L262.46 241.93 L262.71 241.80 L262.96 241.67 L263.20 241.53 L263.45 241.40 L263.69 241.26 L263.93 241.11 L264.18 240.96 L264.43 240.81 L264.68 240.65 L264.92 240.50 L265.16 240.35 L265.39 240.21 L265.62 240.07 L265.85 239.93 L266.08 239.78 L266.32 239.63 L266.56 239.46 L266.81 239.29 L267.07 239.10 L267.34 238.89 L267.62 238.67 L267.91 238.43 L268.22 238.17 L268.55 237.88 L268.90 237.57 L269.27 237.24 L269.66 236.88 L270.06 236.49 L270.48 236.09 L270.91 235.67 L271.35 235.23 L271.80 234.78 L272.26 234.32 L272.73 233.85 L273.20 233.37 L273.68 232.88 L274.16 232.38 L274.64 231.88 L275.12 231.39 L275.60 230.89 L276.07 230.40 L276.53 229.91 L277.00 229.42 L277.47 228.94 L277.94 228.45 L278.42 227.96 L278.89 227.46 L279.38 226.95 L279.87 226.44 L280.36 225.91 L280.86 225.37 L281.37 224.81 L281.89 224.23 L282.42 223.63 L282.95 223.02 L283.50 222.38 L284.05 221.71 L284.62 221.02 L285.20 220.30 L285.80 219.55 L286.40 218.78 L287.01 217.99 L287.62 217.18 L288.24 216.36 L288.86 215.52 L289.48 214.68 L290.11 213.84 L290.73 212.99 L291.35 212.14 L291.97 211.30 L292.57 210.47 L293.17 209.65 L293.76 208.84 L294.35 208.03 L294.92 207.24 L295.48 206.45 L296.03 205.66 L296.58 204.88 L297.13 204.09 L297.68 203.31 L298.22 202.53 L298.77 201.74 L299.32 200.95 L299.87 200.15 L300.44 199.34 L301.01 198.53 L301.59 197.70 L302.19 196.86 L302.80 196.00 L303.44 195.12 L304.10 194.21 L304.77 193.27 L305.47 192.32 L306.18 191.35 L306.90 190.37 L307.62 189.38 L308.34 188.40 L309.06 187.41 L309.78 186.44 L310.49 185.48 L311.18 184.54 L311.85 183.62 L312.51 182.72 L313.13 181.86 L313.73 181.04 L314.26 180.32 L314.69 179.73 L315.05 179.25 L315.35 178.85 L315.61 178.51 L315.86 178.18 L316.12 177.84 L316.39 177.48 L316.70 177.06 L317.07 176.56 L317.51 175.95 L318.04 175.20 L318.69 174.30 L319.46 173.20 L320.39 171.89 L321.48 170.33 L322.77 168.49 L324.26 166.37 L325.92 163.99 L327.73 161.41 L329.67 158.65 L331.69 155.75 L333.78 152.73 L335.92 149.66 L338.07 146.55 L340.21 143.45 L342.32 140.39 L344.38 137.41 L346.35 134.55 L348.21 131.84 L349.94 129.32 L351.51 127.03 L352.95 124.90 L354.34 122.85 L355.67 120.89 L356.94 118.99 L358.16 117.17 L359.33 115.42 L360.45 113.73 L361.52 112.11 L362.56 110.54 L363.55 109.03 L364.50 107.58 L365.42 106.17 L366.31 104.81 L367.17 103.50 L368.00 102.22 L368.81 100.99 L369.56 99.84 L370.21 98.83 L370.79 97.93 L371.30 97.13 L371.76 96.41 L372.18 95.74 L372.57 95.12 L372.95 94.51 L373.32 93.90 L373.71 93.27 L374.12 92.60 L374.57 91.88 L375.07 91.07 L375.64 90.16 L376.28 89.13 L377.02 87.95 L377.86 86.62 L378.79 85.13 L379.81 83.51 L380.89 81.79 L382.03 79.98 L383.21 78.10 L384.41 76.19 L385.62 74.26 L386.83 72.34 L388.02 70.44 L389.18 68.60 L390.29 66.83 L391.34 65.16 L392.32 63.60 L393.21 62.19 L394.00 60.95 L394.65 59.91 L395.17 59.08 L395.58 58.44 L395.89 57.94 L396.14 57.55 L396.33 57.25 L396.49 56.98 L396.65 56.73 L396.83 56.46 L397.05 56.12 L397.32 55.69 L397.68 55.14 L398.15 54.42 L398.74 53.50 L399.47 52.36 L400.38 50.96 L401.49 49.24 L402.81 47.20 L404.30 44.89 L405.94 42.36 L407.70 39.65 L409.54 36.81 L411.43 33.88 L413.35 30.92 L415.26 27.97 L417.14 25.07 L418.96 22.28 L420.67 19.63 L422.26 17.18 L423.70 14.96 L424.94 13.04 L425.97 11.45 L426.80 10.16 L427.49 9.10 L428.05 8.23 L428.48 7.55 L428.82 7.03 L429.06 6.64 L429.23 6.37 L429.35 6.19 L429.43 6.05 L429.61 5.58 L426.67 3.93 L426.59 4.02 L427.77 3.46 L429.41 6.05 L429.41 6.05 L429.48 5.93 L426.52 4.07 L426.43 4.21 L426.35 4.34 L427.98 6.95 L429.19 6.36 L429.14 6.41 L426.22 4.75 L426.38 4.34 L426.35 4.37 L426.27 4.52 L426.11 4.77 L425.87 5.14 L425.54 5.66 L425.10 6.34 L424.55 7.20 L423.86 8.26 L423.03 9.55 L422.00 11.14 L420.76 13.06 L419.32 15.27 L417.74 17.72 L416.02 20.37 L414.21 23.17 L412.33 26.06 L410.41 29.02 L408.49 31.98 L406.59 34.90 L404.75 37.74 L402.99 40.45 L401.35 42.98 L399.85 45.28 L398.53 47.32 L397.42 49.04 L396.51 50.45 L395.77 51.59 L395.18 52.50 L394.71 53.22 L394.35 53.77 L394.07 54.20 L393.85 54.55 L393.67 54.83 L393.51 55.09 L393.34 55.36 L393.14 55.67 L392.90 56.05 L392.58 56.55 L392.18 57.19 L391.66 58.02 L391.00 59.05 L390.21 60.30 L389.32 61.71 L388.34 63.26 L387.29 64.94 L386.17 66.70 L385.01 68.55 L383.82 70.44 L382.60 72.36 L381.39 74.29 L380.19 76.20 L379.01 78.07 L377.87 79.88 L376.78 81.61 L375.76 83.22 L374.82 84.71 L373.98 86.05 L373.24 87.22 L372.59 88.26 L372.02 89.17 L371.52 89.98 L371.06 90.72 L370.65 91.39 L370.26 92.01 L369.89 92.62 L369.52 93.21 L369.13 93.83 L368.72 94.48 L368.27 95.20 L367.76 95.98 L367.19 96.87 L366.54 97.87 L365.79 99.01 L364.98 100.25 L364.15 101.52 L363.29 102.83 L362.40 104.19 L361.48 105.59 L360.53 107.04 L359.53 108.55 L358.50 110.11 L357.43 111.72 L356.31 113.40 L355.14 115.15 L353.92 116.97 L352.65 118.85 L351.32 120.81 L349.94 122.85 L348.49 124.97 L346.93 127.26 L345.20 129.77 L343.33 132.47 L341.36 135.33 L339.30 138.30 L337.19 141.36 L335.04 144.45 L332.88 147.55 L330.75 150.63 L328.66 153.63 L326.64 156.54 L324.73 159.31 L322.93 161.91 L321.28 164.29 L319.80 166.42 L318.52 168.27 L317.44 169.82 L316.52 171.14 L315.76 172.23 L315.12 173.13 L314.60 173.87 L314.17 174.47 L313.82 174.95 L313.52 175.36 L313.26 175.71 L313.02 176.03 L312.77 176.36 L312.50 176.72 L312.20 177.13 L311.83 177.63 L311.40 178.23 L310.87 178.96 L310.27 179.78 L309.65 180.64 L309.00 181.54 L308.33 182.46 L307.65 183.41 L306.95 184.37 L306.24 185.35 L305.52 186.34 L304.80 187.33 L304.08 188.32 L303.37 189.31 L302.66 190.28 L301.97 191.24 L301.29 192.19 L300.63 193.11 L300.00 194.00 L299.38 194.87 L298.78 195.72 L298.20 196.56 L297.63 197.39 L297.06 198.20 L296.51 199.01 L295.96 199.80 L295.42 200.59 L294.88 201.38 L294.34 202.16 L293.80 202.94 L293.26 203.72 L292.72 204.50 L292.16 205.28 L291.61 206.07 L291.04 206.86 L290.45 207.68 L289.86 208.50 L289.26 209.33 L288.65 210.18 L288.04 211.02 L287.42 211.87 L286.80 212.71 L286.19 213.55 L285.58 214.37 L284.97 215.19 L284.37 215.99 L283.78 216.78 L283.20 217.54 L282.63 218.29 L282.08 219.00 L281.55 219.69 L281.03 220.35 L280.52 220.98 L280.01 221.59 L279.52 222.17 L279.03 222.74 L278.55 223.30 L278.08 223.84 L277.61 224.37 L277.14 224.89 L276.68 225.40 L276.22 225.90 L275.76 226.40 L275.30 226.90 L274.85 227.40 L274.39 227.90 L273.93 228.40 L273.47 228.91 L273.01 229.41 L272.55 229.92 L272.09 230.43 L271.63 230.93 L271.17 231.42 L270.71 231.91 L270.26 232.39 L269.82 232.86 L269.39 233.31 L268.97 233.75 L268.56 234.17 L268.17 234.57 L267.79 234.95 L267.44 235.30 L267.10 235.63 L266.78 235.92 L266.49 236.19 L266.22 236.44 L265.96 236.66 L265.72 236.86 L265.49 237.04 L265.28 237.21 L265.07 237.36 L264.86 237.51 L264.66 237.66 L264.45 237.80 L264.24 237.94 L264.03 238.08 L263.80 238.23 L263.57 238.39 L263.32 238.55 L263.08 238.71 L262.85 238.86 L262.63 239.01 L262.41 239.15 L262.19 239.28 L261.97 239.42 L261.76 239.55 L261.54 239.67 L261.31 239.80 L261.08 239.93 L260.85 240.05 L260.61 240.18 L260.35 240.32 L260.08 240.45 L259.80 240.59 L259.50 240.73 L259.19 240.89 L258.86 241.05 L258.54 241.21 L258.21 241.38 L257.88 241.55 L257.55 241.71 L257.21 241.88 L256.86 242.04 L256.51 242.20 L256.15 242.36 L255.78 242.51 L255.39 242.65 L255.00 242.78 L254.60 242.91 L254.18 243.02 L253.75 243.13 L253.30 243.23 L252.85 243.31 L252.37 243.39 L251.89 243.47 L251.39 243.54 L250.87 243.60 L250.34 243.66 L249.80 243.71 L249.24 243.77 L248.66 243.82 L248.07 243.88 L247.46 243.93 L246.84 243.99 L246.20 244.06 L245.54 244.13 L244.87 244.21 L244.19 244.29 L243.49 244.36 L242.77 244.43 L242.02 244.50 L241.25 244.57 L240.47 244.64 L239.67 244.71 L238.86 244.79 L238.04 244.88 L237.22 244.97 L236.39 245.06 L235.56 245.17 L234.73 245.29 L233.91 245.42 L233.09 245.56 L232.28 245.72 L231.51 245.88 L230.76 246.02 L230.02 246.17 L229.28 246.31 L228.54 246.45 L227.80 246.61 L227.05 246.78 L226.29 246.96 L225.52 247.16 L224.73 247.39 L223.92 247.65 L223.10 247.94 L222.24 248.27 L221.36 248.64 L220.45 249.06 L219.50 249.52 L218.51 250.04 L217.47 250.63 L216.39 251.27 L215.28 251.95 L214.14 252.68 L212.98 253.43 L211.81 254.21 L210.63 255.01 L209.45 255.82 L208.29 256.62 L207.14 257.43 L206.01 258.22 L204.91 258.99 L203.85 259.73 L202.84 260.43 L201.88 261.09 L200.96 261.73 L200.07 262.34 L199.22 262.94 L198.39 263.53 L197.60 264.11 L196.82 264.67 L196.06 265.22 L195.32 265.77 L194.58 266.31 L193.85 266.85 L193.12 267.38 L192.39 267.92 L191.66 268.46 L190.91 269.00 L190.15 269.55 L189.36 270.10 L188.57 270.67 L187.78 271.24 L187.00 271.80 L186.23 272.37 L185.46 272.93 L184.69 273.50 L183.92 274.06 L183.14 274.62 L182.36 275.18 L181.56 275.74 L180.75 276.30 L179.93 276.85 L179.09 277.41 L178.23 277.96 L177.35 278.51 L176.44 279.05 L175.48 279.62 L174.49 280.19 L173.46 280.79 L172.40 281.39 L171.32 281.99 L170.22 282.60 L169.10 283.20 L167.99 283.79 L166.87 284.37 L165.76 284.94 L164.67 285.48 L163.59 286.00 L162.54 286.48 L161.52 286.94 L160.54 287.35 L159.61 287.72 L158.71 288.05 L157.84 288.35 L156.99 288.61 L156.16 288.84 L155.35 289.04 L154.56 289.22 L153.77 289.38 L153.00 289.53 L152.23 289.65 L151.46 289.77 L150.70 289.88 L149.94 289.99 L149.17 290.09 L148.40 290.19 L147.62 290.30 L146.84 290.41 L146.07 290.52 L145.30 290.63 L144.53 290.73 L143.76 290.82 L142.99 290.90 L142.23 290.97 L141.48 291.04 L140.72 291.11 L139.98 291.16 L139.24 291.21 L138.51 291.26 L137.78 291.30 L137.06 291.33 L136.36 291.36 L135.66 291.38 L134.98 291.40 L134.31 291.41 L133.68 291.42 L133.08 291.42 L132.49 291.42 L131.92 291.41 L131.36 291.39 L130.80 291.37 L130.25 291.34 L129.68 291.31 L129.11 291.27 L128.51 291.22 L127.90 291.17 L127.26 291.11 L126.58 291.05 L125.87 290.98 L125.11 290.91 L124.32 290.83 L123.53 290.76 L122.74 290.68 L121.94 290.61 L121.12 290.53 L120.29 290.45 L119.44 290.36 L118.56 290.27 L117.66 290.16 L116.72 290.04 L115.75 289.90 L114.74 289.75 L113.69 289.57 L112.58 289.38 L111.43 289.16 L110.22 288.92 L108.93 288.65 L107.54 288.35 L106.08 288.02 L104.54 287.66 L102.95 287.29 L101.31 286.90 L99.64 286.49 L97.95 286.07 L96.26 285.65 L94.58 285.22 L92.91 284.78 L91.28 284.35 L89.69 283.92 L88.15 283.50 L86.69 283.09 L85.31 282.69 L83.97 282.30 L82.62 281.88 L81.28 281.44 L79.94 281.00 L78.61 280.55 L77.31 280.09 L76.04 279.64 L74.81 279.20 L73.63 278.77 L72.51 278.35 L71.44 277.96 L70.45 277.59 L69.54 277.25 L68.72 276.95 L67.99 276.68 L67.37 276.46 Z" fill="#000"/>
</g>
<!-- frame -->
<g id="ticks" stroke="#000" stroke-width="1" fill="none">
<path d="M66.5 282.65 h2.4 M453.6 282.65 h-2.4"/>
<path d="M66.5 274.26 h2.4 M453.6 274.26 h-2.4"/>
<path d="M66.5 268.30 h2.4 M453.6 268.30 h-2.4"/>
<path d="M66.5 263.68 h2.4 M453.6 263.68 h-2.4"/>
<path d="M66.5 259.91 h2.4 M453.6 259.91 h-2.4"/>
<path d="M66.5 256.72 h2.4 M453.6 256.72 h-2.4"/>
<path d="M66.5 253.95 h2.4 M453.6 253.95 h-2.4"/>
<path d="M66.5 251.52 h2.4 M453.6 251.52 h-2.4"/>
<path d="M66.5 249.34 h4.3 M453.6 249.34 h-4.5"/>
<path d="M66.5 234.99 h2.4 M453.6 234.99 h-2.4"/>
<path d="M66.5 226.59 h2.4 M453.6 226.59 h-2.4"/>
<path d="M66.5 220.64 h2.4 M453.6 220.64 h-2.4"/>
<path d="M66.5 216.02 h2.4 M453.6 216.02 h-2.4"/>
<path d="M66.5 212.24 h2.4 M453.6 212.24 h-2.4"/>
<path d="M66.5 209.05 h2.4 M453.6 209.05 h-2.4"/>
<path d="M66.5 206.29 h2.4 M453.6 206.29 h-2.4"/>
<path d="M66.5 203.85 h2.4 M453.6 203.85 h-2.4"/>
<path d="M66.5 201.67 h4.3 M453.6 201.67 h-4.5"/>
<path d="M66.5 187.32 h2.4 M453.6 187.32 h-2.4"/>
<path d="M66.5 178.93 h2.4 M453.6 178.93 h-2.4"/>
<path d="M66.5 172.97 h2.4 M453.6 172.97 h-2.4"/>
<path d="M66.5 168.35 h2.4 M453.6 168.35 h-2.4"/>
<path d="M66.5 164.58 h2.4 M453.6 164.58 h-2.4"/>
<path d="M66.5 161.38 h2.4 M453.6 161.38 h-2.4"/>
<path d="M66.5 158.62 h2.4 M453.6 158.62 h-2.4"/>
<path d="M66.5 156.18 h2.4 M453.6 156.18 h-2.4"/>
<path d="M66.5 154.00 h4.3 M453.6 154.00 h-4.5"/>
<path d="M66.5 139.65 h2.4 M453.6 139.65 h-2.4"/>
<path d="M66.5 131.26 h2.4 M453.6 131.26 h-2.4"/>
<path d="M66.5 125.30 h2.4 M453.6 125.30 h-2.4"/>
<path d="M66.5 120.68 h2.4 M453.6 120.68 h-2.4"/>
<path d="M66.5 116.91 h2.4 M453.6 116.91 h-2.4"/>
<path d="M66.5 113.72 h2.4 M453.6 113.72 h-2.4"/>
<path d="M66.5 110.95 h2.4 M453.6 110.95 h-2.4"/>
<path d="M66.5 108.52 h2.4 M453.6 108.52 h-2.4"/>
<path d="M66.5 106.33 h4.3 M453.6 106.33 h-4.5"/>
<path d="M66.5 91.98 h2.4 M453.6 91.98 h-2.4"/>
<path d="M66.5 83.59 h2.4 M453.6 83.59 h-2.4"/>
<path d="M66.5 77.64 h2.4 M453.6 77.64 h-2.4"/>
<path d="M66.5 73.02 h2.4 M453.6 73.02 h-2.4"/>
<path d="M66.5 69.24 h2.4 M453.6 69.24 h-2.4"/>
<path d="M66.5 66.05 h2.4 M453.6 66.05 h-2.4"/>
<path d="M66.5 63.29 h2.4 M453.6 63.29 h-2.4"/>
<path d="M66.5 60.85 h2.4 M453.6 60.85 h-2.4"/>
<path d="M66.5 58.67 h4.3 M453.6 58.67 h-4.5"/>
<path d="M66.5 44.32 h2.4 M453.6 44.32 h-2.4"/>
<path d="M66.5 35.92 h2.4 M453.6 35.92 h-2.4"/>
<path d="M66.5 29.97 h2.4 M453.6 29.97 h-2.4"/>
<path d="M66.5 25.35 h2.4 M453.6 25.35 h-2.4"/>
<path d="M66.5 21.57 h2.4 M453.6 21.57 h-2.4"/>
<path d="M66.5 18.38 h2.4 M453.6 18.38 h-2.4"/>
<path d="M66.5 15.62 h2.4 M453.6 15.62 h-2.4"/>
<path d="M66.5 13.18 h2.4 M453.6 13.18 h-2.4"/>
<path d="M113.70 297 v-2.6 M113.70 10.8 v2.6"/>
<path d="M141.14 297 v-2.6 M141.14 10.8 v2.6"/>
<path d="M160.60 297 v-2.6 M160.60 10.8 v2.6"/>
<path d="M175.70 297 v-2.6 M175.70 10.8 v2.6"/>
<path d="M188.04 297 v-2.6 M188.04 10.8 v2.6"/>
<path d="M198.47 297 v-2.6 M198.47 10.8 v2.6"/>
<path d="M207.50 297 v-2.6 M207.50 10.8 v2.6"/>
<path d="M215.47 297 v-2.6 M215.47 10.8 v2.6"/>
<path d="M222.60 297 v-4.3 M222.60 10.8 v4.3"/>
<path d="M269.50 297 v-2.6 M269.50 10.8 v2.6"/>
<path d="M296.94 297 v-2.6 M296.94 10.8 v2.6"/>
<path d="M316.40 297 v-2.6 M316.40 10.8 v2.6"/>
<path d="M331.50 297 v-2.6 M331.50 10.8 v2.6"/>
<path d="M343.84 297 v-2.6 M343.84 10.8 v2.6"/>
<path d="M354.27 297 v-2.6 M354.27 10.8 v2.6"/>
<path d="M363.30 297 v-2.6 M363.30 10.8 v2.6"/>
<path d="M371.27 297 v-2.6 M371.27 10.8 v2.6"/>
<path d="M378.40 297 v-4.3 M378.40 10.8 v4.3"/>
<path d="M425.30 297 v-2.6 M425.30 10.8 v2.6"/>
<path d="M452.74 297 v-2.6 M452.74 10.8 v2.6"/>
</g>
<line x1="453.3" y1="10" x2="453.3" y2="298" stroke="#000" stroke-width="1.5"/>
<line x1="66.5" y1="10" x2="66.5" y2="298" stroke="#000" stroke-width="2"/>
<line x1="65.5" y1="297.3" x2="454.1" y2="297.3" stroke="#000" stroke-width="1.8"/>
<!-- legend -->
<g font-size="13px" text-anchor="end">
<text x="156.5" y="33">Model F3</text>
<text x="156.5" y="48.2">Model B5</text>
<text x="156.5" y="63.3">Model A</text>
</g>
<path d="M161.8 28.9 H188.8" stroke="#0000ff" stroke-width="2" stroke-dasharray="7.3 12.4" fill="none"/>
<path d="M161.8 44.4 H187.5" stroke="#ff00ff" stroke-width="4" stroke-dasharray="1.6 1.68" fill="none"/>
<path d="M161.8 59.7 H188.8" stroke="#ff0000" stroke-width="2.5" fill="none"/>
<!-- annotations -->
<text x="113.5" y="158.8" font-size="14.5px">ALIGO 3yr</text>
<text x="113.5" y="221" font-size="14.5px">ET-B 3yr</text>
<!-- tick labels -->
<g class="tl" text-anchor="end">
<text x="61.3" y="300.30">1e-12</text>
<text x="61.3" y="252.64">1e-11</text>
<text x="61.3" y="204.97">1e-10</text>
<text x="61.3" y="157.30">1e-09</text>
<text x="61.3" y="109.63">1e-08</text>
<text x="61.3" y="61.97">1e-07</text>
<text x="61.3" y="14.30">1e-06</text>
</g>
<g class="tl" text-anchor="middle">
<text x="68.3" y="310">10</text>
<text x="224.4" y="310">100</text>
<text x="380" y="310">1000</text>
</g>
<text x="259.5" y="325.7" font-size="16px" text-anchor="middle">f [Hz]</text>
<text transform="translate(22.2,179) rotate(-90)" font-size="16px" style="stroke-width:0.55px">Ω</text>
<text transform="translate(27.4,167.3) rotate(-90) scale(0.86,1)" font-size="12.7px" style="stroke-width:0.55px">GW</text>
<text transform="translate(22.2,148.8) rotate(-90)" font-size="16px" letter-spacing="1px" style="stroke-width:0.55px">(f)</text>
</svg>
</body></html>
